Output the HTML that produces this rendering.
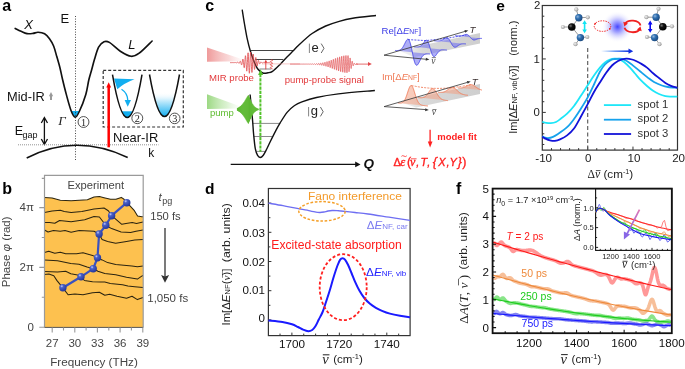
<!DOCTYPE html>
<html><head><meta charset="utf-8"><style>
html,body{margin:0;padding:0;background:#fff;}
svg{display:block;will-change:transform;}
</style></head><body>
<svg width="685" height="369" viewBox="0 0 685 369">
<rect width="685" height="369" fill="#fff"/>
<text x="2.2" y="11" font-family="Liberation Sans" font-size="16" fill="#000" font-weight="bold" font-style="normal" text-anchor="start" >a</text>
<text x="24.3" y="29.3" font-family="Liberation Sans" font-size="13" fill="#111" font-weight="normal" font-style="italic" text-anchor="start" >X</text>
<text x="60.6" y="22.7" font-family="Liberation Sans" font-size="13" fill="#111" font-weight="normal" font-style="normal" text-anchor="start" >E</text>
<path d="M71.3,110.9 L79.1,110.9 Q77.3,115 75.2,117.2 Q73.2,115 71.3,110.9Z" fill="#12aef0"/>
<line x1="75.5" y1="16" x2="75.5" y2="160" stroke="#333" stroke-width="0.9" stroke-dasharray="1 1.6"/>
<path d="M15.2,28.4 C16.17,28.87 19.03,30.33 21,31.2 C22.97,32.07 25,33.23 27,33.6 C29,33.97 31.15,33.62 33,33.4 C34.85,33.18 36.17,32.23 38.1,32.3 C40.03,32.37 42.7,32.73 44.6,33.8 C46.5,34.87 48,36.67 49.5,38.7 C51,40.73 52.38,43.02 53.6,46 C54.82,48.98 55.73,52.93 56.8,56.6 C57.87,60.27 59.05,64.22 60,68 C60.95,71.78 61.45,74.9 62.5,79.3 C63.55,83.7 64.87,89.17 66.3,94.4 C67.73,99.63 69.62,106.9 71.1,110.7 C72.58,114.5 73.83,117.07 75.2,117.2 C76.57,117.33 77.53,115.3 79.3,111.5 C81.07,107.7 84.22,99.65 85.8,94.4 C87.38,89.15 87.83,84.07 88.8,80 C89.77,75.93 90.65,73.45 91.6,70 C92.55,66.55 93.33,63.12 94.5,59.3 C95.67,55.48 97.02,50.03 98.6,47.1 C100.18,44.17 102.2,42.48 104,41.7 C105.8,40.92 106.68,40.82 109.4,42.4 C112.12,43.98 116.68,48.88 120.3,51.2 C123.92,53.52 127.95,55.97 131.1,56.3 C134.25,56.63 135.7,55.75 139.2,53.2 C142.7,50.65 149.95,43.03 152.1,41" fill="none" stroke="#111" stroke-width="1.65" stroke-linecap="round"/>
<text x="58.2" y="124.6" font-family="Liberation Serif" font-size="13.2" fill="#222" font-weight="normal" font-style="italic" text-anchor="start" >&#915;</text>
<circle cx="83.5" cy="122" r="5.45" fill="none" stroke="#333" stroke-width="0.85"/><text x="83.5" y="125.5" font-family="Liberation Serif" font-size="10.2" fill="#222" font-weight="normal" font-style="normal" text-anchor="middle" >1</text>
<circle cx="137.3" cy="118.2" r="5.45" fill="none" stroke="#333" stroke-width="0.85"/><text x="137.3" y="121.7" font-family="Liberation Serif" font-size="10.2" fill="#222" font-weight="normal" font-style="normal" text-anchor="middle" >2</text>
<circle cx="174.7" cy="118.4" r="5.3" fill="none" stroke="#333" stroke-width="0.85"/><text x="174.7" y="121.9" font-family="Liberation Serif" font-size="10.2" fill="#222" font-weight="normal" font-style="normal" text-anchor="middle" >3</text>
<text x="7.1" y="100.5" font-family="Liberation Sans" font-size="12.8" fill="#111" font-weight="normal" font-style="normal" text-anchor="start" >Mid-IR</text>
<path d="M51,100 L51,95.5" stroke="#999" stroke-width="2"/><path d="M48.9,96.3 L51,92.1 L53.1,96.3Z" fill="#999"/>
<text x="14.7" y="135" font-family="Liberation Sans" font-size="12.6" fill="#111" font-weight="normal" font-style="normal" text-anchor="start" >E</text><text x="22.6" y="137.5" font-family="Liberation Sans" font-size="9" fill="#111" font-weight="normal" font-style="normal" text-anchor="start" >gap</text>
<path d="M44.4,118 L44.4,144" stroke="#111" stroke-width="1.3"/><path d="M41.3,123 L44.4,117.6 L47.5,123 M41.3,139 L44.4,144.4 L47.5,139" fill="none" stroke="#111" stroke-width="1.3"/>
<line x1="18" y1="144.8" x2="158.5" y2="144.8" stroke="#888" stroke-width="0.9" stroke-dasharray="1 1"/>
<path d="M26.7,158 Q75.7,132.8 127.7,157.5" fill="none" stroke="#111" stroke-width="1.5"/>
<rect x="103.2" y="70.3" width="80.1" height="56.7" fill="none" stroke="#333" stroke-width="1.2" stroke-dasharray="3 2"/>
<path d="M108.7,147.3 L108.7,86" stroke="#f00" stroke-width="2.5"/><path d="M106.3,87.5 L108.7,82.2 L111.1,87.5Z" fill="#f00"/>
<path d="M112.3,111.4 L141.6,111.4 L127.2,117.8Z" fill="none"/>
<clipPath id="p2"><path d="M112.5,74.6 Q127.2,160.4 142,74.6Z"/></clipPath>
<rect x="110" y="111.3" width="35" height="8" fill="#12aef0" clip-path="url(#p2)"/>
<path d="M114,78.4 L134.6,79.2 Q124,83 117.3,89.3Z" fill="#12aef0"/>
<path d="M112.5,74.6 Q127.2,160.4 142,74.6" fill="none" stroke="#111" stroke-width="1.5"/>
<path d="M121.5,89.2 Q127.6,93 127.8,100.5" fill="none" stroke="#12aef0" stroke-width="1.3"/><path d="M124.6,100 L127.7,106.7 L131,100Z" fill="#12aef0"/>
<linearGradient id="g3" x1="0" y1="0" x2="0" y2="1"><stop offset="0" stop-color="#fff" stop-opacity="0"/><stop offset="0.42" stop-color="#fff" stop-opacity="0"/><stop offset="0.62" stop-color="#c6ecfc"/><stop offset="1" stop-color="#12aef0"/></linearGradient>
<path d="M149.5,74.5 Q164.5,158.7 179.5,74.5Z" fill="url(#g3)"/>
<path d="M149.5,74.5 Q164.5,158.7 179.5,74.5" fill="none" stroke="#111" stroke-width="1.5"/>
<text x="113.1" y="141.9" font-family="Liberation Sans" font-size="12.9" fill="#111" font-weight="normal" font-style="normal" text-anchor="start" >Near-IR</text>
<text x="148.2" y="156.9" font-family="Liberation Sans" font-size="12" fill="#111" font-weight="normal" font-style="normal" text-anchor="start" >k</text>
<text x="128.3" y="49.2" font-family="Liberation Sans" font-size="13" fill="#111" font-weight="normal" font-style="italic" text-anchor="start" >L</text>
<text x="2.2" y="194.4" font-family="Liberation Sans" font-size="16" fill="#000" font-weight="bold" font-style="normal" text-anchor="start" >b</text>
<path d="M44.5,197.5 L52.1,198 L60.3,200.3 L71.1,200.8 L79.2,200.3 L87.4,199.8 L94,196.9 L99.4,196.5 L104,197.7 L110.5,199.3 L115.9,199.3 L121.3,197.4 L124,199.3 L126.8,202.6 L130,205.8 L134.4,210.7 L137.6,216.1 L141.9,216.7 L143,216.8 L143,327.4 L44.5,327.4Z" fill="#fdc14f"/>
<path d="M44.5,197.5 L52.1,198 L60.3,200.3 L71.1,200.8 L79.2,200.3 L87.4,199.8 L94,196.9 L99.4,196.5 L104,197.7 L110.5,199.3 L115.9,199.3 L121.3,197.4 L124,199.3 L126.8,202.6 L130,205.8 L134.4,210.7 L137.6,216.1 L141.9,216.7 L143,216.8" fill="none" stroke="#2b2410" stroke-width="1.05" stroke-linejoin="round"/>
<path d="M44.5,212.4 L52.1,211 L60.3,210.3 L64.3,211.4 L71.1,212.4 L81.9,211.4 L94,209 L104,208 L108.3,210.7 L111.6,215.6 L115.7,219.1 L121.8,224.3 L126,223.4 L132.2,222.6 L136.5,223.4 L143,222" fill="none" stroke="#2b2410" stroke-width="1.05" stroke-linejoin="round"/>
<path d="M44.5,222.5 L49.4,222.5 L54.8,223.2 L59.6,220.5 L71.1,221.8 L84.7,219.8 L94,216.6 L99.4,217 L105.8,225.3 L111.6,228.6 L121.1,231.9 L130.6,232.6 L136,231.3 L143,229.9" fill="none" stroke="#2b2410" stroke-width="1.05" stroke-linejoin="round"/>
<path d="M44.5,230 L48,232 L53.5,230.4 L60.3,231.3 L65,230.4 L71.1,232.3 L79.2,230.6 L94,231.3 L99.1,234 L102.1,239.4 L107.6,241.4 L115.7,243.2 L126.5,241.4 L134.7,240.1 L143,239.4" fill="none" stroke="#2b2410" stroke-width="1.05" stroke-linejoin="round"/>
<path d="M44.5,252.6 L48.7,251.3 L54.8,253.3 L60.3,252.3 L65.7,253.7 L76.5,253.7 L83,252.7 L92.5,255.4 L97.4,257.8 L102.1,259.9 L107.6,262.6 L115.7,264.6 L123.8,265.3 L131.9,266 L137.4,266.7 L143,266" fill="none" stroke="#2b2410" stroke-width="1.05" stroke-linejoin="round"/>
<path d="M44.5,260 L57.5,260.7 L70.8,263.6 L79,264.2 L87.1,266.9 L93.2,268.7 L97.9,271.2 L104.8,273.5 L115.7,274.8 L126.5,277.2 L137.4,279.1 L142.1,275.9 L143,275.5" fill="none" stroke="#2b2410" stroke-width="1.05" stroke-linejoin="round"/>
<path d="M44.5,271.6 L57.5,271.9 L65.7,271.3 L70.8,273.7 L77.6,275.1 L81,276.8 L84.4,280.5 L92.5,281.8 L100.7,282.1 L104.8,282 L110.3,283.4 L122.5,284.7 L127.9,286.1 L134.7,286.8 L143,287.5" fill="none" stroke="#2b2410" stroke-width="1.05" stroke-linejoin="round"/>
<path d="M44.5,274.6 L48.9,274.1 L53.8,275.7 L57,280.6 L62.7,287.7 L68.1,294.7 L74.9,294 L83,294.7 L92.5,292.7 L99.4,292.2 L104.8,295.2 L109.6,294.2 L117,296.3 L126.5,298.3 L132,296.3 L137.4,299.6 L143,297.6" fill="none" stroke="#2b2410" stroke-width="1.05" stroke-linejoin="round"/>
<path d="M44.5,327.4 L44.5,175.4 L143.2,175.4 L143.2,327.4" fill="none" stroke="#9a9a9a" stroke-width="1.2"/>
<line x1="44.5" y1="327.4" x2="143.2" y2="327.4" stroke="#555" stroke-width="1"/>
<path d="M39.3,207.6 L44.5,207.6 M39.3,267.4 L44.5,267.4 M39.3,327.2 L44.5,327.2 M41.8,178.4 L44.5,178.4 M41.8,237.5 L44.5,237.5 M41.8,297.3 L44.5,297.3 M52.2,327.4 L52.2,332.6 M74.8,327.4 L74.8,332.6 M97.4,327.4 L97.4,332.6 M120.1,327.4 L120.1,332.6 M142.8,327.4 L142.8,332.6 M63.5,327.4 L63.5,330.4 M86.1,327.4 L86.1,330.4 M108.8,327.4 L108.8,330.4 M131.4,327.4 L131.4,330.4 " stroke="#999" stroke-width="1.1"/>
<text x="33.9" y="211" font-family="Liberation Sans" font-size="11.5" fill="#444" font-weight="normal" font-style="normal" text-anchor="end" >4&#960;</text>
<text x="33.9" y="270.5" font-family="Liberation Sans" font-size="11.5" fill="#444" font-weight="normal" font-style="normal" text-anchor="end" >2&#960;</text>
<text x="34" y="330.9" font-family="Liberation Sans" font-size="11.5" fill="#444" font-weight="normal" font-style="normal" text-anchor="end" >0</text>
<text x="52.2" y="347.4" font-family="Liberation Sans" font-size="11.5" fill="#444" font-weight="normal" font-style="normal" text-anchor="middle" >27</text>
<text x="74.8" y="347.4" font-family="Liberation Sans" font-size="11.5" fill="#444" font-weight="normal" font-style="normal" text-anchor="middle" >30</text>
<text x="97.4" y="347.4" font-family="Liberation Sans" font-size="11.5" fill="#444" font-weight="normal" font-style="normal" text-anchor="middle" >33</text>
<text x="120.1" y="347.4" font-family="Liberation Sans" font-size="11.5" fill="#444" font-weight="normal" font-style="normal" text-anchor="middle" >36</text>
<text x="142.8" y="347.4" font-family="Liberation Sans" font-size="11.5" fill="#444" font-weight="normal" font-style="normal" text-anchor="middle" >39</text>
<text x="94" y="366" font-family="Liberation Sans" font-size="11.7" fill="#444" font-weight="normal" font-style="normal" text-anchor="middle" >Frequency (THz)</text>
<text transform="translate(9.6,251.8) rotate(-90)" font-family="Liberation Sans" font-size="11.5" fill="#444" text-anchor="middle">Phase <tspan font-style="italic">&#966;</tspan> (rad)</text>
<text x="95.8" y="188.8" font-family="Liberation Sans" font-size="11.2" fill="#444" font-weight="normal" font-style="normal" text-anchor="middle" >Experiment</text>
<text x="158.6" y="201.3" font-family="Liberation Sans" font-size="11.5" fill="#444" font-weight="normal" font-style="italic" text-anchor="start" >t</text><text x="162.2" y="204.3" font-family="Liberation Sans" font-size="9" fill="#444" font-weight="normal" font-style="normal" text-anchor="start" >pg</text>
<text x="165.4" y="220" font-family="Liberation Sans" font-size="11.2" fill="#444" font-weight="normal" font-style="normal" text-anchor="middle" >150 fs</text>
<text x="167.7" y="301.5" font-family="Liberation Sans" font-size="11.5" fill="#444" font-weight="normal" font-style="normal" text-anchor="middle" >1,050 fs</text>
<path d="M165,228 L165,277" stroke="#333" stroke-width="1.3"/><path d="M161.1,275 L165,282.8 L169.1,275 L165,276.6Z" fill="#333"/>
<radialGradient id="dotg" cx="0.35" cy="0.3" r="0.7"><stop offset="0" stop-color="#c8d0f5"/><stop offset="0.3" stop-color="#4a60c8"/><stop offset="1" stop-color="#26389a"/></radialGradient>
<path d="M62.9,287.7 L81,276.8 L93.2,268.7 L97.5,257.8 L99.1,234 L105.8,225.3 L111.6,215.7 L126.8,202.7" fill="none" stroke="#3a51c0" stroke-width="2.2" stroke-linejoin="round"/>
<circle cx="62.9" cy="287.7" r="3.7" fill="url(#dotg)"/>
<circle cx="81" cy="276.8" r="3.7" fill="url(#dotg)"/>
<circle cx="93.2" cy="268.7" r="3.7" fill="url(#dotg)"/>
<circle cx="97.5" cy="257.8" r="3.7" fill="url(#dotg)"/>
<circle cx="99.1" cy="234" r="3.7" fill="url(#dotg)"/>
<circle cx="105.8" cy="225.3" r="3.7" fill="url(#dotg)"/>
<circle cx="111.6" cy="215.7" r="3.7" fill="url(#dotg)"/>
<circle cx="126.8" cy="202.7" r="3.7" fill="url(#dotg)"/>
<text x="205.2" y="10.8" font-family="Liberation Sans" font-size="16" fill="#000" font-weight="bold" font-style="normal" text-anchor="start" >c</text>
<linearGradient id="mirg" x1="0" y1="0" x2="1" y2="0"><stop offset="0" stop-color="#ef9a9a" stop-opacity="1"/><stop offset="0.6" stop-color="#f5bcbc" stop-opacity="0.6"/><stop offset="1" stop-color="#fadada" stop-opacity="0.1"/></linearGradient>
<path d="M207,47.5 L243,59.6 L243,61.3 L207,61.8Z" fill="url(#mirg)"/>
<linearGradient id="pumpg" x1="0" y1="0" x2="1" y2="0"><stop offset="0" stop-color="#9cd883" stop-opacity="1"/><stop offset="0.6" stop-color="#c2e9b2" stop-opacity="0.6"/><stop offset="1" stop-color="#def4d4" stop-opacity="0.1"/></linearGradient>
<path d="M207,94.2 L240,106.3 L240,108.5 L207,109.1Z" fill="url(#pumpg)"/>
<path d="M250.8,50.5 L293.1,50.5 M255.2,59.5 L283.3,59.5" stroke="#444" stroke-width="1"/><path d="M259.5,69 L271.4,69" stroke="#777" stroke-width="0.9"/>
<path d="M252.8,123.4 L280.2,123.4 M254,136.5 L272,136.5 M256.5,151.4 L265,151.4" stroke="#8a8a8a" stroke-width="1"/>
<path d="M242.2,9.7 C242.58,12.08 243.65,19.08 244.5,24 C245.35,28.92 246.35,34.78 247.3,39.2 C248.25,43.62 249.07,46.75 250.2,50.5 C251.33,54.25 252.87,58.67 254.1,61.7 C255.33,64.73 256.15,66.82 257.6,68.7 C259.05,70.58 261.07,72.32 262.8,73 C264.53,73.68 266.38,73.07 268,72.8 C269.62,72.53 270.48,72.8 272.5,71.4 C274.52,70 277.68,66.8 280.1,64.4 C282.52,62 284.77,59.32 287,57 C289.23,54.68 291.57,52.47 293.5,50.5 C295.43,48.53 295.5,48.03 298.6,45.2 C301.7,42.37 307.58,36.7 312.1,33.5 C316.62,30.3 321.18,28.03 325.7,26 C330.22,23.97 334.7,22.58 339.2,21.3 C343.7,20.02 346.57,19.27 352.7,18.3 C358.83,17.33 372.12,15.97 376,15.5" fill="none" stroke="#111" stroke-width="1.4"/>
<path d="M250.1,94.5 C250.35,97.08 251.17,105.42 251.6,110 C252.03,114.58 252.37,118 252.7,122 C253.03,126 253.17,129.57 253.6,134 C254.03,138.43 254.63,145.03 255.3,148.6 C255.97,152.17 256.78,153.92 257.6,155.4 C258.42,156.88 259.25,157.53 260.2,157.5 C261.15,157.47 262.23,156.57 263.3,155.2 C264.37,153.83 265.45,151.55 266.6,149.3 C267.75,147.05 268.68,144.78 270.2,141.7 C271.72,138.62 274.07,133.9 275.7,130.8 C277.33,127.7 278.07,126.22 280,123.1 C281.93,119.98 284.87,115.03 287.3,112.1 C289.73,109.17 292.17,107.2 294.6,105.5 C297.03,103.8 298.25,103.23 301.9,101.9 C305.55,100.57 310.42,98.83 316.5,97.5 C322.58,96.17 328.67,95.07 338.4,93.9 C348.13,92.73 368.82,91.07 374.9,90.5" fill="none" stroke="#111" stroke-width="1.4"/>
<path d="M230.7,164.4 L356,164.4" stroke="#111" stroke-width="1.3"/><path d="M355.2,161.5 L360.5,164.4 L355.2,167.3Z" fill="#111"/>
<text x="363.4" y="167.8" font-family="Liberation Sans" font-size="13.5" fill="#111" font-weight="bold" font-style="italic" text-anchor="start" >Q</text>
<line x1="309.4" y1="43.599999999999994" x2="309.4" y2="53.0" stroke="#777" stroke-width="0.9"/><text x="311.5" y="51.8" font-family="Liberation Sans" font-size="13" fill="#222" font-weight="normal" font-style="normal" text-anchor="start" >e</text><path d="M321.2,43.599999999999994 L324.0,48.3 L321.2,53.0" fill="none" stroke="#555" stroke-width="0.9"/>
<line x1="308.6" y1="107.0" x2="308.6" y2="116.4" stroke="#777" stroke-width="0.9"/><text x="310.7" y="115.2" font-family="Liberation Sans" font-size="13" fill="#222" font-weight="normal" font-style="normal" text-anchor="start" >g</text><path d="M320.40000000000003,107.0 L323.20000000000005,111.7 L320.40000000000003,116.4" fill="none" stroke="#555" stroke-width="0.9"/>
<path d="M230,62.6 L230.15,62.6 L230.3,62.6 L230.45,62.6 L230.6,62.6 L230.75,62.6 L230.9,62.6 L231.05,62.6 L231.2,62.61 L231.35,62.61 L231.5,62.6 L231.65,62.6 L231.8,62.6 L231.95,62.6 L232.1,62.59 L232.25,62.59 L232.4,62.59 L232.55,62.59 L232.7,62.59 L232.85,62.59 L233,62.6 L233.15,62.6 L233.3,62.61 L233.45,62.62 L233.6,62.63 L233.75,62.64 L233.9,62.64 L234.05,62.63 L234.2,62.62 L234.35,62.61 L234.5,62.59 L234.65,62.56 L234.8,62.54 L234.95,62.52 L235.1,62.51 L235.25,62.51 L235.4,62.53 L235.55,62.56 L235.7,62.6 L235.85,62.65 L236,62.7 L236.15,62.75 L236.3,62.78 L236.45,62.8 L236.6,62.78 L236.75,62.74 L236.9,62.66 L237.05,62.57 L237.2,62.46 L237.35,62.35 L237.5,62.26 L237.65,62.21 L237.8,62.2 L237.95,62.25 L238.1,62.37 L238.25,62.53 L238.4,62.74 L238.55,62.96 L238.7,63.16 L238.85,63.31 L239,63.38 L239.15,63.34 L239.3,63.2 L239.45,62.94 L239.6,62.6 L239.75,62.21 L239.9,61.82 L240.05,61.48 L240.2,61.27 L240.35,61.21 L240.5,61.35 L240.65,61.68 L240.8,62.19 L240.95,62.82 L241.1,63.5 L241.25,64.13 L241.4,64.63 L241.55,64.89 L241.7,64.86 L241.85,64.51 L242,63.85 L242.15,62.94 L242.3,61.89 L242.45,60.82 L242.6,59.89 L242.75,59.25 L242.9,59.01 L243.05,59.25 L243.2,59.97 L243.35,61.13 L243.5,62.6 L243.65,64.2 L243.8,65.71 L243.95,66.92 L244.1,67.64 L244.25,67.72 L244.4,67.1 L244.55,65.82 L244.7,64 L244.85,61.87 L245,59.68 L245.15,57.75 L245.3,56.35 L245.45,55.71 L245.6,55.97 L245.75,57.14 L245.9,59.12 L246.05,61.67 L246.2,64.49 L246.35,67.19 L246.5,69.41 L246.65,70.82 L246.8,71.18 L246.95,70.41 L247.1,68.57 L247.25,65.85 L247.4,62.6 L247.55,59.24 L247.7,56.22 L247.85,53.95 L248,52.77 L248.15,52.86 L248.3,54.25 L248.45,56.78 L248.6,60.12 L248.75,63.86 L248.9,67.49 L249.05,70.53 L249.2,72.56 L249.35,73.3 L249.5,72.64 L249.65,70.66 L249.8,67.61 L249.95,63.9 L250.1,60.02 L250.25,56.47 L250.4,53.74 L250.55,52.18 L250.7,51.99 L250.85,53.19 L251,55.59 L251.15,58.88 L251.3,62.6 L251.45,66.26 L251.6,69.37 L251.75,71.55 L251.9,72.51 L252.05,72.17 L252.2,70.6 L252.35,68.04 L252.5,64.86 L252.65,61.48 L252.8,58.37 L252.95,55.91 L253.1,54.4 L253.25,54.01 L253.4,54.74 L253.55,56.45 L253.7,58.87 L253.85,61.66 L254,64.43 L254.15,66.82 L254.3,68.55 L254.45,69.42 L254.6,69.37 L254.75,68.46 L254.9,66.85 L255.05,64.8 L255.2,62.6 L255.35,60.54 L255.5,58.89 L255.65,57.82 L255.8,57.43 L255.95,57.74 L256.1,58.64 L256.25,59.97 L256.4,61.54 L256.55,63.11 L256.7,64.49 L256.85,65.52 L257,66.09 L257.15,66.16 L257.3,65.78 L257.45,65.02 L257.6,64.03 L257.75,62.95 L257.9,61.93 L258.05,61.1 L258.2,60.53 L258.35,60.29 L258.5,60.36 L258.65,60.71 L258.8,61.27 L258.95,61.93 L259.1,62.6 L259.25,63.2 L259.4,63.65 L259.55,63.92 L259.7,63.99 L259.85,63.88 L260,63.61 L260.15,63.26 L260.3,62.86 L260.45,62.48 L260.6,62.16 L260.75,61.94 L260.9,61.83 L261.05,61.84 L261.2,61.94 L261.35,62.11 L261.5,62.32 L261.65,62.53 L261.8,62.73 L261.95,62.88 L262.1,62.97 L262.25,63 L262.4,62.98 L262.55,62.91 L262.7,62.82 L262.85,62.71 L263,62.6 L263.15,62.51 L263.3,62.45 L263.45,62.41 L263.6,62.41 L263.75,62.43 L263.9,62.47 L264.05,62.52 L264.2,62.57 L264.35,62.61 L264.5,62.65 L264.65,62.68 L264.8,62.69 L264.95,62.68 L265.1,62.67 L265.25,62.65 L265.4,62.63 L265.55,62.61 L265.7,62.59 L265.85,62.57 L266,62.57 L266.15,62.56 L266.3,62.57 L266.45,62.57 L266.6,62.58 L266.75,62.59 L266.9,62.6 L267.05,62.61 L267.2,62.61 L267.35,62.61 L267.5,62.61 L267.65,62.61 L267.8,62.61 L267.95,62.61 L268.1,62.6 L268.25,62.6 L268.4,62.6 L268.55,62.6 L268.7,62.59 L268.85,62.6 L269,62.6 L269.15,62.6 L269.3,62.6 L269.45,62.6 L269.6,62.6 L269.75,62.6 L269.9,62.6" fill="none" stroke="#e0474a" stroke-width="0.8"/>
<line x1="262" y1="63.9" x2="300" y2="63.9" stroke="#f0a0a0" stroke-width="0.6"/>
<path d="M290,64.1 L290.15,64.1 L290.3,64.1 L290.45,64.1 L290.6,64.1 L290.75,64.1 L290.9,64.1 L291.05,64.1 L291.2,64.1 L291.35,64.1 L291.5,64.1 L291.65,64.1 L291.8,64.1 L291.95,64.1 L292.1,64.1 L292.25,64.1 L292.4,64.1 L292.55,64.1 L292.7,64.1 L292.85,64.1 L293,64.1 L293.15,64.1 L293.3,64.1 L293.45,64.1 L293.6,64.1 L293.75,64.1 L293.9,64.1 L294.05,64.1 L294.2,64.1 L294.35,64.1 L294.5,64.1 L294.65,64.1 L294.8,64.1 L294.95,64.1 L295.1,64.1 L295.25,64.1 L295.4,64.1 L295.55,64.1 L295.7,64.1 L295.85,64.1 L296,64.1 L296.15,64.1 L296.3,64.1 L296.45,64.1 L296.6,64.1 L296.75,64.1 L296.9,64.1 L297.05,64.1 L297.2,64.1 L297.35,64.1 L297.5,64.1 L297.65,64.09 L297.8,64.09 L297.95,64.1 L298.1,64.1 L298.25,64.1 L298.4,64.1 L298.55,64.11 L298.7,64.11 L298.85,64.11 L299,64.1 L299.15,64.1 L299.3,64.1 L299.45,64.09 L299.6,64.09 L299.75,64.09 L299.9,64.09 L300.05,64.09 L300.2,64.1 L300.35,64.1 L300.5,64.11 L300.65,64.11 L300.8,64.11 L300.95,64.11 L301.1,64.11 L301.25,64.1 L301.4,64.1 L301.55,64.09 L301.7,64.08 L301.85,64.08 L302,64.08 L302.15,64.09 L302.3,64.1 L302.45,64.11 L302.6,64.12 L302.75,64.12 L302.9,64.12 L303.05,64.12 L303.2,64.11 L303.35,64.1 L303.5,64.09 L303.65,64.08 L303.8,64.07 L303.95,64.07 L304.1,64.07 L304.25,64.08 L304.4,64.09 L304.55,64.11 L304.7,64.13 L304.85,64.14 L305,64.14 L305.15,64.14 L305.3,64.13 L305.45,64.11 L305.6,64.09 L305.75,64.07 L305.9,64.05 L306.05,64.05 L306.2,64.05 L306.35,64.07 L306.5,64.09 L306.65,64.12 L306.8,64.14 L306.95,64.16 L307.1,64.17 L307.25,64.16 L307.4,64.14 L307.55,64.11 L307.7,64.08 L307.85,64.04 L308,64.02 L308.15,64.01 L308.3,64.02 L308.45,64.05 L308.6,64.09 L308.75,64.13 L308.9,64.17 L309.05,64.2 L309.2,64.21 L309.35,64.2 L309.5,64.17 L309.65,64.12 L309.8,64.06 L309.95,64.01 L310.1,63.97 L310.25,63.96 L310.4,63.97 L310.55,64.01 L310.7,64.08 L310.85,64.15 L311,64.21 L311.15,64.26 L311.3,64.28 L311.45,64.26 L311.6,64.21 L311.75,64.13 L311.9,64.04 L312.05,63.96 L312.2,63.9 L312.35,63.88 L312.5,63.9 L312.65,63.97 L312.8,64.06 L312.95,64.18 L313.1,64.28 L313.25,64.35 L313.4,64.38 L313.55,64.35 L313.7,64.27 L313.85,64.15 L314,64.01 L314.15,63.88 L314.3,63.79 L314.45,63.76 L314.6,63.79 L314.75,63.89 L314.9,64.04 L315.05,64.21 L315.2,64.37 L315.35,64.48 L315.5,64.52 L315.65,64.47 L315.8,64.35 L315.95,64.17 L316.1,63.96 L316.25,63.77 L316.4,63.64 L316.55,63.59 L316.7,63.64 L316.85,63.8 L317,64.02 L317.15,64.27 L317.3,64.5 L317.45,64.66 L317.6,64.72 L317.75,64.65 L317.9,64.47 L318.05,64.2 L318.2,63.9 L318.35,63.62 L318.5,63.43 L318.65,63.36 L318.8,63.44 L318.95,63.66 L319.1,63.98 L319.25,64.34 L319.4,64.67 L319.55,64.9 L319.7,64.98 L319.85,64.88 L320,64.62 L320.15,64.24 L320.3,63.81 L320.45,63.42 L320.6,63.15 L320.75,63.06 L320.9,63.17 L321.05,63.48 L321.2,63.93 L321.35,64.44 L321.5,64.9 L321.65,65.22 L321.8,65.33 L321.95,65.19 L322.1,64.83 L322.25,64.3 L322.4,63.7 L322.55,63.16 L322.7,62.79 L322.85,62.66 L323,62.82 L323.15,63.25 L323.3,63.87 L323.45,64.56 L323.6,65.19 L323.75,65.63 L323.9,65.77 L324.05,65.58 L324.2,65.08 L324.35,64.37 L324.5,63.56 L324.65,62.84 L324.8,62.34 L324.95,62.17 L325.1,62.39 L325.25,62.97 L325.4,63.79 L325.55,64.72 L325.7,65.55 L325.85,66.12 L326,66.31 L326.15,66.06 L326.3,65.4 L326.45,64.45 L326.6,63.4 L326.75,62.44 L326.9,61.79 L327.05,61.58 L327.2,61.87 L327.35,62.63 L327.5,63.7 L327.65,64.9 L327.8,65.98 L327.95,66.71 L328.1,66.95 L328.25,66.62 L328.4,65.77 L328.55,64.55 L328.7,63.2 L328.85,61.99 L329,61.16 L329.15,60.9 L329.3,61.27 L329.45,62.23 L329.6,63.6 L329.75,65.11 L329.9,66.47 L330.05,67.39 L330.2,67.68 L330.35,67.26 L330.5,66.18 L330.65,64.66 L330.8,62.98 L330.95,61.47 L331.1,60.45 L331.25,60.13 L331.4,60.6 L331.55,61.79 L331.7,63.48 L331.85,65.34 L332,67.01 L332.15,68.13 L332.3,68.48 L332.45,67.95 L332.6,66.64 L332.75,64.78 L332.9,62.74 L333.05,60.91 L333.2,59.68 L333.35,59.3 L333.5,59.88 L333.65,61.32 L333.8,63.36 L333.95,65.59 L334.1,67.58 L334.25,68.92 L334.4,69.32 L334.55,68.69 L334.7,67.12 L334.85,64.91 L335,62.48 L335.15,60.33 L335.3,58.89 L335.45,58.45 L335.6,59.14 L335.75,60.84 L335.9,63.23 L336.05,65.84 L336.2,68.16 L336.35,69.71 L336.5,70.17 L336.65,69.42 L336.8,67.59 L336.95,65.03 L337.1,62.24 L337.25,59.76 L337.4,58.11 L337.55,57.63 L337.7,58.43 L337.85,60.38 L338,63.11 L338.15,66.08 L338.3,68.71 L338.45,70.46 L338.6,70.96 L338.75,70.11 L338.9,68.04 L339.05,65.15 L339.2,62.01 L339.35,59.24 L339.5,57.4 L339.65,56.87 L339.8,57.78 L339.95,59.96 L340.1,63 L340.25,66.3 L340.4,69.2 L340.55,71.12 L340.7,71.67 L340.85,70.71 L341,68.43 L341.15,65.25 L341.3,61.81 L341.45,58.79 L341.6,56.79 L341.75,56.23 L341.9,57.23 L342.05,59.61 L342.2,62.91 L342.35,66.47 L342.5,69.6 L342.65,71.65 L342.8,72.23 L342.95,71.19 L343.1,68.73 L343.25,65.33 L343.4,61.66 L343.55,58.45 L343.7,56.34 L343.85,55.76 L344,56.83 L344.15,59.36 L344.3,62.84 L344.45,66.59 L344.6,69.87 L344.75,72.02 L344.9,72.6 L345.05,71.5 L345.2,68.92 L345.35,65.38 L345.5,61.57 L345.65,58.24 L345.8,56.07 L345.95,55.49 L346.1,56.61 L346.25,59.22 L346.4,62.81 L346.55,66.66 L346.7,70.01 L346.85,72.19 L347,72.77 L347.15,71.63 L347.3,69 L347.45,65.4 L347.6,61.54 L347.75,58.2 L347.9,56.06 L348.05,55.55 L348.2,56.74 L348.35,59.37 L348.5,62.87 L348.65,66.5 L348.8,69.55 L348.95,71.41 L349.1,71.76 L349.25,70.59 L349.4,68.21 L349.55,65.16 L349.7,62.08 L349.85,59.58 L350,58.13 L350.15,57.94 L350.3,58.96 L350.45,60.9 L350.6,63.29 L350.75,65.63 L350.9,67.47 L351.05,68.48 L351.2,68.55 L351.35,67.75 L351.5,66.34 L351.65,64.66 L351.8,63.06 L351.95,61.85 L352.1,61.22 L352.25,61.22 L352.4,61.77 L352.55,62.69 L352.7,63.75 L352.85,64.73 L353,65.45 L353.15,65.8 L353.3,65.78 L353.45,65.44 L353.6,64.9 L353.75,64.29 L353.9,63.75 L354.05,63.37 L354.2,63.2 L354.35,63.22 L354.5,63.41 L354.65,63.7 L354.8,64 L354.95,64.27 L355.1,64.45 L355.25,64.53 L355.4,64.51 L355.55,64.42 L355.7,64.28 L355.85,64.14 L356,64.02 L356.15,63.95 L356.3,63.92 L356.45,63.93 L356.6,63.97 L356.75,64.02 L356.9,64.08 L357.05,64.13 L357.2,64.16 L357.35,64.17 L357.5,64.17 L357.65,64.15 L357.8,64.13 L357.95,64.11" fill="none" stroke="#e0474a" stroke-width="0.65"/>
<line x1="356" y1="64.1" x2="369" y2="64.1" stroke="#e0474a" stroke-width="0.8"/><path d="M368,62.1 L371.8,64.1 L368,66.1Z" fill="#e0474a"/>
<text x="209.1" y="81.3" font-family="Liberation Sans" font-size="9.6" fill="#e23a3c" font-weight="normal" font-style="normal" text-anchor="start" >MIR probe</text>
<text x="284.8" y="83.3" font-family="Liberation Sans" font-size="9.55" fill="#e23a3c" font-weight="normal" font-style="normal" text-anchor="start" >pump-probe signal</text>
<path d="M237,108.07 L237.22,107.98 L237.43,107.89 L237.65,107.8 L237.86,107.71 L238.07,107.6 L238.29,107.49 L238.5,107.38 L238.72,107.26 L238.94,107.14 L239.15,107.01 L239.37,106.87 L239.58,106.72 L239.79,106.57 L240.01,106.41 L240.22,106.25 L240.44,106.07 L240.66,105.89 L240.87,105.7 L241.09,105.5 L241.3,105.3 L241.51,105.08 L241.73,104.86 L241.94,104.62 L242.16,104.38 L242.38,104.13 L242.59,103.87 L242.81,103.6 L243.02,103.33 L243.24,103.04 L243.45,102.74 L243.66,102.44 L243.88,102.12 L244.09,101.8 L244.31,101.47 L244.53,101.13 L244.74,100.78 L244.96,100.43 L245.17,100.06 L245.38,99.7 L245.6,99.33 L245.81,98.95 L246.03,98.57 L246.25,98.2 L246.46,97.82 L246.68,97.44 L246.89,97.07 L247.1,96.71 L247.32,96.35 L247.53,96.02 L247.75,95.7 L247.97,95.41 L248.18,95.17 L248.4,95 L248.61,95.24 L248.82,95.6 L249.04,96.03 L249.25,96.49 L249.47,96.98 L249.69,97.49 L249.9,98 L250.12,98.52 L250.33,99.03 L250.54,99.54 L250.76,100.04 L250.97,100.54 L251.19,101.01 L251.41,101.48 L251.62,101.93 L251.84,102.36 L252.05,102.78 L252.26,103.18 L252.48,103.56 L252.69,103.93 L252.91,104.28 L253.12,104.61 L253.34,104.93 L253.56,105.23 L253.77,105.51 L253.99,105.78 L254.2,106.03 L254.41,106.27 L254.63,106.49 L254.84,106.7 L255.06,106.9 L255.28,107.08 L255.49,107.26 L255.7,107.42 L255.92,107.57 L256.13,107.71 L256.35,107.84 L256.56,107.96 L256.78,108.08 L257,108.18 L257.21,108.28 L257.43,108.37 L257.64,108.45 L257.86,108.53 L258.07,108.6 L258.29,108.67 L258.5,108.73 L258.5,110.07 L258.29,110.13 L258.07,110.2 L257.86,110.27 L257.64,110.35 L257.43,110.43 L257.21,110.52 L257,110.62 L256.78,110.72 L256.56,110.84 L256.35,110.96 L256.13,111.09 L255.92,111.23 L255.7,111.38 L255.49,111.54 L255.28,111.72 L255.06,111.9 L254.84,112.1 L254.63,112.31 L254.41,112.53 L254.2,112.77 L253.99,113.02 L253.77,113.29 L253.56,113.57 L253.34,113.87 L253.12,114.19 L252.91,114.52 L252.69,114.87 L252.48,115.24 L252.26,115.62 L252.05,116.02 L251.84,116.44 L251.62,116.87 L251.41,117.32 L251.19,117.79 L250.97,118.26 L250.76,118.76 L250.54,119.26 L250.33,119.77 L250.12,120.28 L249.9,120.8 L249.69,121.31 L249.47,121.82 L249.25,122.31 L249.04,122.77 L248.82,123.2 L248.61,123.56 L248.4,123.8 L248.18,123.63 L247.97,123.39 L247.75,123.1 L247.53,122.78 L247.32,122.45 L247.1,122.09 L246.89,121.73 L246.68,121.36 L246.46,120.98 L246.25,120.6 L246.03,120.23 L245.81,119.85 L245.6,119.47 L245.38,119.1 L245.17,118.74 L244.96,118.37 L244.74,118.02 L244.53,117.67 L244.31,117.33 L244.09,117 L243.88,116.68 L243.66,116.36 L243.45,116.06 L243.24,115.76 L243.02,115.47 L242.81,115.2 L242.59,114.93 L242.38,114.67 L242.16,114.42 L241.94,114.18 L241.73,113.94 L241.51,113.72 L241.3,113.5 L241.09,113.3 L240.87,113.1 L240.66,112.91 L240.44,112.73 L240.22,112.55 L240.01,112.39 L239.79,112.23 L239.58,112.08 L239.37,111.93 L239.15,111.79 L238.94,111.66 L238.72,111.54 L238.5,111.42 L238.29,111.31 L238.07,111.2 L237.86,111.09 L237.65,111 L237.43,110.91 L237.22,110.82 L237,110.73Z" fill="#7fcf55"/>
<path d="M237,109.4 L237.15,108.71 L237.3,108.28 L237.45,108.4 L237.6,109.09 L237.75,110.05 L237.9,110.81 L238.05,110.91 L238.2,110.2 L238.35,108.96 L238.5,107.77 L238.65,107.3 L238.8,107.91 L238.95,109.4 L239.1,111.09 L239.25,112.1 L239.4,111.77 L239.55,110.13 L239.7,107.89 L239.85,106.2 L240,106.01 L240.15,107.62 L240.3,110.37 L240.45,112.9 L240.6,113.84 L240.75,112.52 L240.9,109.4 L241.05,105.97 L241.2,104.02 L241.35,104.73 L241.5,107.98 L241.65,112.28 L241.8,115.43 L241.95,115.69 L242.1,112.65 L242.25,107.66 L242.4,103.19 L242.55,101.62 L242.7,104.02 L242.85,109.4 L243,115.16 L243.15,118.3 L243.3,117.01 L243.45,111.68 L243.6,104.85 L243.75,99.98 L243.9,99.73 L244.05,104.47 L244.2,112 L244.35,118.56 L244.5,120.69 L244.65,117.1 L244.8,109.4 L244.95,101.4 L245.1,97.2 L245.25,99.12 L245.4,106.36 L245.55,115.38 L245.7,121.59 L245.85,121.74 L246,115.6 L246.15,106.18 L246.3,98.22 L246.45,95.81 L246.6,100.26 L246.75,109.4 L246.9,118.63 L247.05,123.26 L247.2,120.91 L247.35,112.75 L247.5,102.9 L247.65,96.33 L247.8,96.36 L247.95,102.94 L248.1,112.71 L248.25,120.72 L248.4,122.96 L248.55,118.39 L248.7,109.4 L248.85,100.59 L249,96.35 L249.15,98.72 L249.3,106.34 L249.45,115.26 L249.6,121.02 L249.75,120.82 L249.9,114.98 L250.05,106.58 L250.2,99.91 L250.35,98.19 L250.5,102.08 L250.65,109.4 L250.8,116.38 L250.95,119.58 L251.1,117.62 L251.25,111.72 L251.4,105.02 L251.55,100.84 L251.7,101.11 L251.85,105.41 L252,111.39 L252.15,116 L252.3,117.08 L252.45,114.35 L252.6,109.4 L252.75,104.82 L252.9,102.81 L253.05,104.16 L253.2,107.94 L253.35,112.11 L253.5,114.62 L253.65,114.39 L253.8,111.77 L253.95,108.24 L254.1,105.6 L254.25,105.04 L254.4,106.63 L254.55,109.4 L254.7,111.89 L254.85,112.93 L255,112.17 L255.15,110.16 L255.3,108.01 L255.45,106.76 L255.6,106.91 L255.75,108.24 L255.9,109.96 L256.05,111.22 L256.2,111.45 L256.35,110.68 L256.5,109.4 L256.65,108.28 L256.8,107.83 L256.95,108.19 L257.1,109.07 L257.25,109.99 L257.4,110.51 L257.55,110.43 L257.7,109.87 L257.85,109.17 L258,108.68 L258.15,108.6 L258.3,108.91 L258.45,109.4" fill="none" stroke="#3fa51c" stroke-width="0.5" transform="rotate(90 247.4 109.4)" opacity="0.0"/>
<path d="M237.4,107.94 L237.4,110.86 M238.5,107.43 L238.5,111.37 M239.6,106.76 L239.6,112.04 M240.7,105.92 L240.7,112.88 M241.8,104.88 L241.8,113.92 M242.9,103.6 L242.9,115.2 M244,102.1 L244,116.7 M245.1,100.37 L245.1,118.43 M246.2,98.51 L246.2,120.29 M247.3,96.66 L247.3,122.14 M248.4,95.3 L248.4,123.5 M249.5,97.31 L249.5,121.49 M250.6,99.88 L250.6,118.92 M251.7,102.24 L251.7,116.56 M252.8,104.21 L252.8,114.59 M253.9,105.75 L253.9,113.05 M255,106.9 L255,111.9 M256.1,107.72 L256.1,111.08 M257.2,108.3 L257.2,110.5 M258.3,108.69 L258.3,110.11 " stroke="#46a81c" stroke-width="0.7" opacity="0.9"/>
<text x="210" y="116.4" font-family="Liberation Sans" font-size="9.5" fill="#5cbb2e" font-weight="normal" font-style="normal" text-anchor="start" >pump</text>
<line x1="260.4" y1="74" x2="260.4" y2="151.8" stroke="#52c22a" stroke-width="2" stroke-dasharray="3.2 1"/>
<path d="M258.1,75 L260.6,69.2 L263.1,75Z" fill="#52c22a"/>
<path d="M265.8,69.3 L265.8,62" stroke="#e03a3a" stroke-width="0.9"/><path d="M264.3,62.6 L265.8,59.8 L267.3,62.6Z" fill="#e03a3a"/>
<path d="M271.4,59.5 L271.89,59.7 L272.3,59.9 L272.55,60.1 L272.59,60.3 L272.43,60.5 L272.08,60.7 L271.61,60.9 L271.11,61.1 L270.66,61.3 L270.34,61.5 L270.2,61.7 L270.28,61.9 L270.56,62.1 L270.98,62.3 L271.48,62.5 L271.96,62.7 L272.35,62.9 L272.57,63.1 L272.58,63.3 L272.38,63.5 L272.01,63.7 L271.53,63.9 L271.03,64.1 L270.6,64.3 L270.3,64.5 L270.2,64.7 L270.31,64.9 L270.61,65.1 L271.06,65.3 L271.56,65.5 L272.03,65.7 L272.4,65.9 L272.58,66.1 L272.56,66.3 L272.33,66.5 L271.94,66.7 L271.46,66.9 L270.96,67.1 L270.54,67.3 L270.27,67.5 L270.2,67.7 L270.35,67.9 L270.68,68.1 L271.13,68.3 L271.64,68.5 L272.1,68.7 L272.44,68.9 L272.59,69.1" fill="none" stroke="#e03a3a" stroke-width="0.8"/>
<linearGradient id="ribg" x1="0" y1="0" x2="1" y2="0"><stop offset="0" stop-color="#e4e4e4" stop-opacity="0.3"/><stop offset="0.3" stop-color="#d9d9d9"/><stop offset="1" stop-color="#cfcfcf"/></linearGradient>
<text x="381.6" y="33.6" font-family="Liberation Sans" font-size="9.6" fill="#3b3be6">Re[&#916;<tspan font-style="italic">E</tspan><tspan font-size="6.8">NF</tspan>]</text>
<text x="381.9" y="79.8" font-family="Liberation Sans" font-size="9.6" fill="#f07a55">Im[&#916;<tspan font-style="italic">E</tspan><tspan font-size="6.8">NF</tspan>]</text>
<path d="M398,50.5 L480,33 L480,43.5 L414,57Z" fill="url(#ribg)"/>
<path d="M398,101.5 L480,84 L480,94 L416,107.5Z" fill="url(#ribg)"/>
<path d="M395,50.44 L395.25,50.46 L395.5,50.48 L395.75,50.5 L396,50.51 L396.25,50.52 L396.5,50.53 L396.75,50.54 L397,50.54 L397.25,50.54 L397.5,50.53 L397.75,50.52 L398,50.5 L398.25,50.47 L398.5,50.43 L398.75,50.39 L399,50.33 L399.25,50.26 L399.5,50.18 L399.75,50.09 L400,49.98 L400.25,49.85 L400.5,49.7 L400.75,49.53 L401,49.34 L401.25,49.13 L401.5,48.89 L401.75,48.63 L402,48.34 L402.25,48.03 L402.5,47.69 L402.75,47.32 L403,46.93 L403.25,46.52 L403.5,46.08 L403.75,45.62 L404,45.14 L404.25,44.65 L404.5,44.14 L404.75,43.63 L405,43.12 L405.25,42.61 L405.5,42.1 L405.75,41.62 L406,41.16 L406.25,40.72 L406.5,40.33 L406.75,39.98 L407,39.68 L407.25,39.44 L407.5,39.27 L407.75,39.18 L408,39.16 L408.25,39.23 L408.5,39.39 L408.75,39.64 L409,39.98 L409.25,40.43 L409.5,40.97 L409.75,41.6 L410,42.33 L410.25,43.15 L410.5,44.05 L410.75,45.02 L411,46.07 L411.25,47.17 L411.5,48.32 L411.75,49.51 L412,50.72 L412.25,51.95 L412.5,53.19 L412.75,54.41 L413,55.61 L413.25,56.78 L413.5,57.9 L413.75,58.97 L414,59.97 L414.25,60.9 L414.5,61.75 L414.75,62.52 L415,63.19 L415.25,63.77 L415.5,64.25 L415.75,64.63 L416,64.92 L416.25,65.12 L416.5,65.22 L416.75,65.24 L417,65.17 L417.25,65.03 L417.5,64.82 L417.75,64.55 L418,64.22 L418.25,63.84 L418.5,63.42 L418.75,62.97 L419,62.49 L419.25,62 L419.5,61.49 L419.75,60.98 L420,60.46 L420.25,59.95 L420.5,59.45 L420.75,58.97 L421,58.5 L421.25,58.06 L421.5,57.63 L421.75,57.23 L422,56.85 L422.25,56.5 L422.5,56.18 L422.75,55.88 L423,55.61 L423.25,55.36 L423.5,55.14 L423.75,54.94 L424,54.77 L424.25,54.61 L424.5,54.47 L424.75,54.36 L425,54.25 L425.25,54.17 L425.5,54.09 L425.75,54.03 L426,53.98 L426.25,53.94 L426.5,53.91 L426.75,53.89 L427,53.88 L427.25,53.87 L427.5,53.86 L427.75,53.86 L428,53.87 L428.25,53.87 L428.5,53.88 L428.75,53.9 L429,53.91 L429.25,53.93 L429.5,53.95 L429.75,53.97 L430,53.99 L430,53.97 L395,50.47Z" fill="#6b6bf0" fill-opacity="0.55" stroke="none"/>
<path d="M395,50.44 L395.25,50.46 L395.5,50.48 L395.75,50.5 L396,50.51 L396.25,50.52 L396.5,50.53 L396.75,50.54 L397,50.54 L397.25,50.54 L397.5,50.53 L397.75,50.52 L398,50.5 L398.25,50.47 L398.5,50.43 L398.75,50.39 L399,50.33 L399.25,50.26 L399.5,50.18 L399.75,50.09 L400,49.98 L400.25,49.85 L400.5,49.7 L400.75,49.53 L401,49.34 L401.25,49.13 L401.5,48.89 L401.75,48.63 L402,48.34 L402.25,48.03 L402.5,47.69 L402.75,47.32 L403,46.93 L403.25,46.52 L403.5,46.08 L403.75,45.62 L404,45.14 L404.25,44.65 L404.5,44.14 L404.75,43.63 L405,43.12 L405.25,42.61 L405.5,42.1 L405.75,41.62 L406,41.16 L406.25,40.72 L406.5,40.33 L406.75,39.98 L407,39.68 L407.25,39.44 L407.5,39.27 L407.75,39.18 L408,39.16 L408.25,39.23 L408.5,39.39 L408.75,39.64 L409,39.98 L409.25,40.43 L409.5,40.97 L409.75,41.6 L410,42.33 L410.25,43.15 L410.5,44.05 L410.75,45.02 L411,46.07 L411.25,47.17 L411.5,48.32 L411.75,49.51 L412,50.72 L412.25,51.95 L412.5,53.19 L412.75,54.41 L413,55.61 L413.25,56.78 L413.5,57.9 L413.75,58.97 L414,59.97 L414.25,60.9 L414.5,61.75 L414.75,62.52 L415,63.19 L415.25,63.77 L415.5,64.25 L415.75,64.63 L416,64.92 L416.25,65.12 L416.5,65.22 L416.75,65.24 L417,65.17 L417.25,65.03 L417.5,64.82 L417.75,64.55 L418,64.22 L418.25,63.84 L418.5,63.42 L418.75,62.97 L419,62.49 L419.25,62 L419.5,61.49 L419.75,60.98 L420,60.46 L420.25,59.95 L420.5,59.45 L420.75,58.97 L421,58.5 L421.25,58.06 L421.5,57.63 L421.75,57.23 L422,56.85 L422.25,56.5 L422.5,56.18 L422.75,55.88 L423,55.61 L423.25,55.36 L423.5,55.14 L423.75,54.94 L424,54.77 L424.25,54.61 L424.5,54.47 L424.75,54.36 L425,54.25 L425.25,54.17 L425.5,54.09 L425.75,54.03 L426,53.98 L426.25,53.94 L426.5,53.91 L426.75,53.89 L427,53.88 L427.25,53.87 L427.5,53.86 L427.75,53.86 L428,53.87 L428.25,53.87 L428.5,53.88 L428.75,53.9 L429,53.91 L429.25,53.93 L429.5,53.95 L429.75,53.97 L430,53.99" fill="none" stroke="#4545e6" stroke-width="0.9"/>
<path d="M414,46.77 L414.25,46.8 L414.5,46.82 L414.75,46.84 L415,46.86 L415.25,46.88 L415.5,46.9 L415.75,46.92 L416,46.94 L416.25,46.95 L416.5,46.96 L416.75,46.97 L417,46.97 L417.25,46.97 L417.5,46.97 L417.75,46.96 L418,46.94 L418.25,46.92 L418.5,46.88 L418.75,46.84 L419,46.79 L419.25,46.72 L419.5,46.64 L419.75,46.55 L420,46.44 L420.25,46.31 L420.5,46.17 L420.75,46 L421,45.82 L421.25,45.61 L421.5,45.39 L421.75,45.14 L422,44.87 L422.25,44.59 L422.5,44.28 L422.75,43.96 L423,43.63 L423.25,43.29 L423.5,42.93 L423.75,42.58 L424,42.23 L424.25,41.89 L424.5,41.56 L424.75,41.26 L425,40.97 L425.25,40.73 L425.5,40.52 L425.75,40.36 L426,40.26 L426.25,40.21 L426.5,40.23 L426.75,40.32 L427,40.48 L427.25,40.71 L427.5,41.03 L427.75,41.41 L428,41.88 L428.25,42.42 L428.5,43.02 L428.75,43.69 L429,44.41 L429.25,45.19 L429.5,46 L429.75,46.84 L430,47.7 L430.25,48.57 L430.5,49.44 L430.75,50.3 L431,51.13 L431.25,51.93 L431.5,52.68 L431.75,53.39 L432,54.03 L432.25,54.61 L432.5,55.12 L432.75,55.55 L433,55.91 L433.25,56.19 L433.5,56.4 L433.75,56.53 L434,56.59 L434.25,56.58 L434.5,56.51 L434.75,56.38 L435,56.2 L435.25,55.98 L435.5,55.72 L435.75,55.42 L436,55.11 L436.25,54.77 L436.5,54.43 L436.75,54.08 L437,53.72 L437.25,53.38 L437.5,53.04 L437.75,52.71 L438,52.39 L438.25,52.1 L438.5,51.82 L438.75,51.56 L439,51.32 L439.25,51.1 L439.5,50.91 L439.75,50.73 L440,50.57 L440.25,50.44 L440.5,50.32 L440.75,50.21 L441,50.12 L441.25,50.05 L441.5,49.99 L441.75,49.94 L442,49.9 L442.25,49.87 L442.5,49.85 L442.75,49.84 L443,49.83 L443.25,49.83 L443.5,49.83 L443.75,49.83 L444,49.84 L444.25,49.86 L444.5,49.87 L444.75,49.89 L445,49.91 L445.25,49.93 L445.5,49.95 L445.75,49.97 L446,49.99 L446.25,50.01 L446.5,50.04 L446.75,50.06 L447,50.08 L447,50.08 L414,46.78Z" fill="#6b6bf0" fill-opacity="0.55" stroke="none"/>
<path d="M414,46.77 L414.25,46.8 L414.5,46.82 L414.75,46.84 L415,46.86 L415.25,46.88 L415.5,46.9 L415.75,46.92 L416,46.94 L416.25,46.95 L416.5,46.96 L416.75,46.97 L417,46.97 L417.25,46.97 L417.5,46.97 L417.75,46.96 L418,46.94 L418.25,46.92 L418.5,46.88 L418.75,46.84 L419,46.79 L419.25,46.72 L419.5,46.64 L419.75,46.55 L420,46.44 L420.25,46.31 L420.5,46.17 L420.75,46 L421,45.82 L421.25,45.61 L421.5,45.39 L421.75,45.14 L422,44.87 L422.25,44.59 L422.5,44.28 L422.75,43.96 L423,43.63 L423.25,43.29 L423.5,42.93 L423.75,42.58 L424,42.23 L424.25,41.89 L424.5,41.56 L424.75,41.26 L425,40.97 L425.25,40.73 L425.5,40.52 L425.75,40.36 L426,40.26 L426.25,40.21 L426.5,40.23 L426.75,40.32 L427,40.48 L427.25,40.71 L427.5,41.03 L427.75,41.41 L428,41.88 L428.25,42.42 L428.5,43.02 L428.75,43.69 L429,44.41 L429.25,45.19 L429.5,46 L429.75,46.84 L430,47.7 L430.25,48.57 L430.5,49.44 L430.75,50.3 L431,51.13 L431.25,51.93 L431.5,52.68 L431.75,53.39 L432,54.03 L432.25,54.61 L432.5,55.12 L432.75,55.55 L433,55.91 L433.25,56.19 L433.5,56.4 L433.75,56.53 L434,56.59 L434.25,56.58 L434.5,56.51 L434.75,56.38 L435,56.2 L435.25,55.98 L435.5,55.72 L435.75,55.42 L436,55.11 L436.25,54.77 L436.5,54.43 L436.75,54.08 L437,53.72 L437.25,53.38 L437.5,53.04 L437.75,52.71 L438,52.39 L438.25,52.1 L438.5,51.82 L438.75,51.56 L439,51.32 L439.25,51.1 L439.5,50.91 L439.75,50.73 L440,50.57 L440.25,50.44 L440.5,50.32 L440.75,50.21 L441,50.12 L441.25,50.05 L441.5,49.99 L441.75,49.94 L442,49.9 L442.25,49.87 L442.5,49.85 L442.75,49.84 L443,49.83 L443.25,49.83 L443.5,49.83 L443.75,49.83 L444,49.84 L444.25,49.86 L444.5,49.87 L444.75,49.89 L445,49.91 L445.25,49.93 L445.5,49.95 L445.75,49.97 L446,49.99 L446.25,50.01 L446.5,50.04 L446.75,50.06 L447,50.08" fill="none" stroke="#4545e6" stroke-width="0.9"/>
<path d="M434,40.72 L434.25,40.74 L434.5,40.76 L434.75,40.79 L435,40.81 L435.25,40.83 L435.5,40.85 L435.75,40.87 L436,40.89 L436.25,40.91 L436.5,40.93 L436.75,40.94 L437,40.95 L437.25,40.97 L437.5,40.97 L437.75,40.98 L438,40.98 L438.25,40.98 L438.5,40.97 L438.75,40.96 L439,40.94 L439.25,40.92 L439.5,40.89 L439.75,40.85 L440,40.81 L440.25,40.75 L440.5,40.69 L440.75,40.62 L441,40.54 L441.25,40.44 L441.5,40.34 L441.75,40.22 L442,40.1 L442.25,39.96 L442.5,39.82 L442.75,39.67 L443,39.51 L443.25,39.34 L443.5,39.16 L443.75,38.99 L444,38.81 L444.25,38.63 L444.5,38.46 L444.75,38.3 L445,38.14 L445.25,38 L445.5,37.87 L445.75,37.76 L446,37.68 L446.25,37.62 L446.5,37.59 L446.75,37.59 L447,37.63 L447.25,37.7 L447.5,37.81 L447.75,37.96 L448,38.14 L448.25,38.37 L448.5,38.63 L448.75,38.93 L449,39.27 L449.25,39.64 L449.5,40.03 L449.75,40.45 L450,40.9 L450.25,41.36 L450.5,41.83 L450.75,42.3 L451,42.78 L451.25,43.26 L451.5,43.72 L451.75,44.17 L452,44.6 L452.25,45.01 L452.5,45.39 L452.75,45.74 L453,46.05 L453.25,46.33 L453.5,46.57 L453.75,46.77 L454,46.94 L454.25,47.06 L454.5,47.15 L454.75,47.2 L455,47.21 L455.25,47.19 L455.5,47.15 L455.75,47.07 L456,46.97 L456.25,46.85 L456.5,46.72 L456.75,46.57 L457,46.41 L457.25,46.24 L457.5,46.06 L457.75,45.88 L458,45.71 L458.25,45.53 L458.5,45.36 L458.75,45.2 L459,45.04 L459.25,44.89 L459.5,44.75 L459.75,44.62 L460,44.51 L460.25,44.4 L460.5,44.3 L460.75,44.21 L461,44.14 L461.25,44.07 L461.5,44.01 L461.75,43.96 L462,43.92 L462.25,43.89 L462.5,43.86 L462.75,43.85 L463,43.83 L463.25,43.82 L463.5,43.82 L463.75,43.82 L464,43.82 L464.25,43.83 L464.5,43.84 L464.75,43.85 L465,43.87 L465.25,43.88 L465.5,43.9 L465.75,43.92 L466,43.94 L466,43.92 L434,40.72Z" fill="#6b6bf0" fill-opacity="0.55" stroke="none"/>
<path d="M434,40.72 L434.25,40.74 L434.5,40.76 L434.75,40.79 L435,40.81 L435.25,40.83 L435.5,40.85 L435.75,40.87 L436,40.89 L436.25,40.91 L436.5,40.93 L436.75,40.94 L437,40.95 L437.25,40.97 L437.5,40.97 L437.75,40.98 L438,40.98 L438.25,40.98 L438.5,40.97 L438.75,40.96 L439,40.94 L439.25,40.92 L439.5,40.89 L439.75,40.85 L440,40.81 L440.25,40.75 L440.5,40.69 L440.75,40.62 L441,40.54 L441.25,40.44 L441.5,40.34 L441.75,40.22 L442,40.1 L442.25,39.96 L442.5,39.82 L442.75,39.67 L443,39.51 L443.25,39.34 L443.5,39.16 L443.75,38.99 L444,38.81 L444.25,38.63 L444.5,38.46 L444.75,38.3 L445,38.14 L445.25,38 L445.5,37.87 L445.75,37.76 L446,37.68 L446.25,37.62 L446.5,37.59 L446.75,37.59 L447,37.63 L447.25,37.7 L447.5,37.81 L447.75,37.96 L448,38.14 L448.25,38.37 L448.5,38.63 L448.75,38.93 L449,39.27 L449.25,39.64 L449.5,40.03 L449.75,40.45 L450,40.9 L450.25,41.36 L450.5,41.83 L450.75,42.3 L451,42.78 L451.25,43.26 L451.5,43.72 L451.75,44.17 L452,44.6 L452.25,45.01 L452.5,45.39 L452.75,45.74 L453,46.05 L453.25,46.33 L453.5,46.57 L453.75,46.77 L454,46.94 L454.25,47.06 L454.5,47.15 L454.75,47.2 L455,47.21 L455.25,47.19 L455.5,47.15 L455.75,47.07 L456,46.97 L456.25,46.85 L456.5,46.72 L456.75,46.57 L457,46.41 L457.25,46.24 L457.5,46.06 L457.75,45.88 L458,45.71 L458.25,45.53 L458.5,45.36 L458.75,45.2 L459,45.04 L459.25,44.89 L459.5,44.75 L459.75,44.62 L460,44.51 L460.25,44.4 L460.5,44.3 L460.75,44.21 L461,44.14 L461.25,44.07 L461.5,44.01 L461.75,43.96 L462,43.92 L462.25,43.89 L462.5,43.86 L462.75,43.85 L463,43.83 L463.25,43.82 L463.5,43.82 L463.75,43.82 L464,43.82 L464.25,43.83 L464.5,43.84 L464.75,43.85 L465,43.87 L465.25,43.88 L465.5,43.9 L465.75,43.92 L466,43.94" fill="none" stroke="#4545e6" stroke-width="0.9"/>
<path d="M455,35.68 L455.25,35.7 L455.5,35.73 L455.75,35.75 L456,35.77 L456.25,35.8 L456.5,35.82 L456.75,35.84 L457,35.86 L457.25,35.88 L457.5,35.9 L457.75,35.92 L458,35.94 L458.25,35.95 L458.5,35.96 L458.75,35.97 L459,35.98 L459.25,35.99 L459.5,35.99 L459.75,35.98 L460,35.98 L460.25,35.96 L460.5,35.95 L460.75,35.92 L461,35.89 L461.25,35.86 L461.5,35.81 L461.75,35.76 L462,35.71 L462.25,35.64 L462.5,35.57 L462.75,35.49 L463,35.41 L463.25,35.32 L463.5,35.23 L463.75,35.13 L464,35.03 L464.25,34.93 L464.5,34.84 L464.75,34.75 L465,34.66 L465.25,34.59 L465.5,34.53 L465.75,34.47 L466,34.44 L466.25,34.43 L466.5,34.43 L466.75,34.46 L467,34.51 L467.25,34.59 L467.5,34.69 L467.75,34.82 L468,34.97 L468.25,35.15 L468.5,35.36 L468.75,35.58 L469,35.83 L469.25,36.1 L469.5,36.37 L469.75,36.66 L470,36.96 L470.25,37.26 L470.5,37.56 L470.75,37.85 L471,38.14 L471.25,38.41 L471.5,38.67 L471.75,38.91 L472,39.13 L472.25,39.32 L472.5,39.49 L472.75,39.64 L473,39.76 L473.25,39.85 L473.5,39.91 L473.75,39.96 L474,39.97 L474.25,39.97 L474.5,39.95 L474.75,39.91 L475,39.85 L475.25,39.78 L475.5,39.7 L475.75,39.62 L476,39.52 L476.25,39.43 L476.5,39.33 L476.75,39.23 L477,39.14 L477.25,39.04 L477.5,38.96 L477.75,38.88 L478,38.8 L478.25,38.73 L478.5,38.67 L478.75,38.62 L479,38.57 L479.25,38.53 L479.5,38.49 L479.75,38.47 L480,38.45 L480.25,38.43 L480.5,38.42 L480.75,38.41 L481,38.41 L481.25,38.41 L481.5,38.42 L481.75,38.43 L482,38.44 L482,38.38 L455,35.68Z" fill="#6b6bf0" fill-opacity="0.55" stroke="none"/>
<path d="M455,35.68 L455.25,35.7 L455.5,35.73 L455.75,35.75 L456,35.77 L456.25,35.8 L456.5,35.82 L456.75,35.84 L457,35.86 L457.25,35.88 L457.5,35.9 L457.75,35.92 L458,35.94 L458.25,35.95 L458.5,35.96 L458.75,35.97 L459,35.98 L459.25,35.99 L459.5,35.99 L459.75,35.98 L460,35.98 L460.25,35.96 L460.5,35.95 L460.75,35.92 L461,35.89 L461.25,35.86 L461.5,35.81 L461.75,35.76 L462,35.71 L462.25,35.64 L462.5,35.57 L462.75,35.49 L463,35.41 L463.25,35.32 L463.5,35.23 L463.75,35.13 L464,35.03 L464.25,34.93 L464.5,34.84 L464.75,34.75 L465,34.66 L465.25,34.59 L465.5,34.53 L465.75,34.47 L466,34.44 L466.25,34.43 L466.5,34.43 L466.75,34.46 L467,34.51 L467.25,34.59 L467.5,34.69 L467.75,34.82 L468,34.97 L468.25,35.15 L468.5,35.36 L468.75,35.58 L469,35.83 L469.25,36.1 L469.5,36.37 L469.75,36.66 L470,36.96 L470.25,37.26 L470.5,37.56 L470.75,37.85 L471,38.14 L471.25,38.41 L471.5,38.67 L471.75,38.91 L472,39.13 L472.25,39.32 L472.5,39.49 L472.75,39.64 L473,39.76 L473.25,39.85 L473.5,39.91 L473.75,39.96 L474,39.97 L474.25,39.97 L474.5,39.95 L474.75,39.91 L475,39.85 L475.25,39.78 L475.5,39.7 L475.75,39.62 L476,39.52 L476.25,39.43 L476.5,39.33 L476.75,39.23 L477,39.14 L477.25,39.04 L477.5,38.96 L477.75,38.88 L478,38.8 L478.25,38.73 L478.5,38.67 L478.75,38.62 L479,38.57 L479.25,38.53 L479.5,38.49 L479.75,38.47 L480,38.45 L480.25,38.43 L480.5,38.42 L480.75,38.41 L481,38.41 L481.25,38.41 L481.5,38.42 L481.75,38.43 L482,38.44" fill="none" stroke="#4545e6" stroke-width="0.9"/>
<path d="M408,39.6 L426,40.6 L446.5,38.3 L466.5,35" fill="none" stroke="#4545e6" stroke-width="0.9" stroke-dasharray="2 1.2"/>
<path d="M398,102.96 L398.25,102.98 L398.5,102.99 L398.75,103.01 L399,103.02 L399.25,103.03 L399.5,103.03 L399.75,103.04 L400,103.03 L400.25,103.02 L400.5,103 L400.75,102.98 L401,102.94 L401.25,102.89 L401.5,102.83 L401.75,102.76 L402,102.66 L402.25,102.55 L402.5,102.42 L402.75,102.26 L403,102.08 L403.25,101.86 L403.5,101.62 L403.75,101.35 L404,101.04 L404.25,100.69 L404.5,100.3 L404.75,99.88 L405,99.41 L405.25,98.91 L405.5,98.36 L405.75,97.78 L406,97.16 L406.25,96.5 L406.5,95.81 L406.75,95.1 L407,94.36 L407.25,93.61 L407.5,92.84 L407.75,92.08 L408,91.32 L408.25,90.57 L408.5,89.84 L408.75,89.14 L409,88.48 L409.25,87.87 L409.5,87.31 L409.75,86.82 L410,86.4 L410.25,86.05 L410.5,85.78 L410.75,85.6 L411,85.51 L411.25,85.51 L411.5,85.6 L411.75,85.77 L412,86.04 L412.25,86.39 L412.5,86.82 L412.75,87.32 L413,87.89 L413.25,88.52 L413.5,89.2 L413.75,89.93 L414,90.69 L414.25,91.47 L414.5,92.28 L414.75,93.09 L415,93.91 L415.25,94.72 L415.5,95.52 L415.75,96.3 L416,97.05 L416.25,97.78 L416.5,98.47 L416.75,99.13 L417,99.75 L417.25,100.32 L417.5,100.86 L417.75,101.36 L418,101.82 L418.25,102.24 L418.5,102.62 L418.75,102.97 L419,103.28 L419.25,103.56 L419.5,103.81 L419.75,104.03 L420,104.23 L420.25,104.41 L420.5,104.56 L420.75,104.7 L421,104.82 L421.25,104.92 L421.5,105.02 L421.75,105.1 L422,105.17 L422.25,105.24 L422.5,105.29 L422.75,105.35 L423,105.39 L423.25,105.44 L423.5,105.48 L423.75,105.51 L424,105.55 L424.25,105.58 L424.5,105.61 L424.75,105.64 L425,105.67 L425.25,105.7 L425.5,105.72 L425.75,105.75 L426,105.78 L426.25,105.8 L426.5,105.83 L426.75,105.85 L427,105.88 L427.25,105.9 L427.5,105.93 L427.75,105.95 L428,105.98Z" fill="#f2a083" fill-opacity="0.55" stroke="none"/>
<path d="M398,102.96 L398.25,102.98 L398.5,102.99 L398.75,103.01 L399,103.02 L399.25,103.03 L399.5,103.03 L399.75,103.04 L400,103.03 L400.25,103.02 L400.5,103 L400.75,102.98 L401,102.94 L401.25,102.89 L401.5,102.83 L401.75,102.76 L402,102.66 L402.25,102.55 L402.5,102.42 L402.75,102.26 L403,102.08 L403.25,101.86 L403.5,101.62 L403.75,101.35 L404,101.04 L404.25,100.69 L404.5,100.3 L404.75,99.88 L405,99.41 L405.25,98.91 L405.5,98.36 L405.75,97.78 L406,97.16 L406.25,96.5 L406.5,95.81 L406.75,95.1 L407,94.36 L407.25,93.61 L407.5,92.84 L407.75,92.08 L408,91.32 L408.25,90.57 L408.5,89.84 L408.75,89.14 L409,88.48 L409.25,87.87 L409.5,87.31 L409.75,86.82 L410,86.4 L410.25,86.05 L410.5,85.78 L410.75,85.6 L411,85.51 L411.25,85.51 L411.5,85.6 L411.75,85.77 L412,86.04 L412.25,86.39 L412.5,86.82 L412.75,87.32 L413,87.89 L413.25,88.52 L413.5,89.2 L413.75,89.93 L414,90.69 L414.25,91.47 L414.5,92.28 L414.75,93.09 L415,93.91 L415.25,94.72 L415.5,95.52 L415.75,96.3 L416,97.05 L416.25,97.78 L416.5,98.47 L416.75,99.13 L417,99.75 L417.25,100.32 L417.5,100.86 L417.75,101.36 L418,101.82 L418.25,102.24 L418.5,102.62 L418.75,102.97 L419,103.28 L419.25,103.56 L419.5,103.81 L419.75,104.03 L420,104.23 L420.25,104.41 L420.5,104.56 L420.75,104.7 L421,104.82 L421.25,104.92 L421.5,105.02 L421.75,105.1 L422,105.17 L422.25,105.24 L422.5,105.29 L422.75,105.35 L423,105.39 L423.25,105.44 L423.5,105.48 L423.75,105.51 L424,105.55 L424.25,105.58 L424.5,105.61 L424.75,105.64 L425,105.67 L425.25,105.7 L425.5,105.72 L425.75,105.75 L426,105.78 L426.25,105.8 L426.5,105.83 L426.75,105.85 L427,105.88 L427.25,105.9 L427.5,105.93 L427.75,105.95 L428,105.98" fill="none" stroke="#ef7a58" stroke-width="0.9"/>
<path d="M418,97.62 L418.25,97.64 L418.5,97.66 L418.75,97.68 L419,97.7 L419.25,97.72 L419.5,97.73 L419.75,97.75 L420,97.76 L420.25,97.77 L420.5,97.78 L420.75,97.78 L421,97.78 L421.25,97.78 L421.5,97.77 L421.75,97.76 L422,97.74 L422.25,97.71 L422.5,97.67 L422.75,97.63 L423,97.58 L423.25,97.51 L423.5,97.43 L423.75,97.35 L424,97.24 L424.25,97.13 L424.5,97 L424.75,96.85 L425,96.68 L425.25,96.5 L425.5,96.3 L425.75,96.08 L426,95.85 L426.25,95.59 L426.5,95.32 L426.75,95.03 L427,94.73 L427.25,94.4 L427.5,94.07 L427.75,93.72 L428,93.37 L428.25,93 L428.5,92.63 L428.75,92.26 L429,91.88 L429.25,91.52 L429.5,91.16 L429.75,90.81 L430,90.47 L430.25,90.15 L430.5,89.85 L430.75,89.58 L431,89.34 L431.25,89.12 L431.5,88.94 L431.75,88.8 L432,88.69 L432.25,88.62 L432.5,88.59 L432.75,88.61 L433,88.66 L433.25,88.75 L433.5,88.89 L433.75,89.06 L434,89.27 L434.25,89.51 L434.5,89.79 L434.75,90.1 L435,90.43 L435.25,90.79 L435.5,91.16 L435.75,91.55 L436,91.96 L436.25,92.37 L436.5,92.79 L436.75,93.22 L437,93.64 L437.25,94.06 L437.5,94.47 L437.75,94.87 L438,95.27 L438.25,95.64 L438.5,96.01 L438.75,96.36 L439,96.69 L439.25,97.01 L439.5,97.3 L439.75,97.58 L440,97.84 L440.25,98.09 L440.5,98.31 L440.75,98.52 L441,98.71 L441.25,98.89 L441.5,99.05 L441.75,99.19 L442,99.33 L442.25,99.45 L442.5,99.56 L442.75,99.66 L443,99.75 L443.25,99.83 L443.5,99.91 L443.75,99.97 L444,100.04 L444.25,100.09 L444.5,100.14 L444.75,100.19 L445,100.24 L445.25,100.28 L445.5,100.32 L445.75,100.35 L446,100.39 L446.25,100.42 L446.5,100.45 L446.75,100.48 L447,100.51 L447.25,100.54 L447.5,100.57 L447.75,100.6 L448,100.62Z" fill="#f2a083" fill-opacity="0.55" stroke="none"/>
<path d="M418,97.62 L418.25,97.64 L418.5,97.66 L418.75,97.68 L419,97.7 L419.25,97.72 L419.5,97.73 L419.75,97.75 L420,97.76 L420.25,97.77 L420.5,97.78 L420.75,97.78 L421,97.78 L421.25,97.78 L421.5,97.77 L421.75,97.76 L422,97.74 L422.25,97.71 L422.5,97.67 L422.75,97.63 L423,97.58 L423.25,97.51 L423.5,97.43 L423.75,97.35 L424,97.24 L424.25,97.13 L424.5,97 L424.75,96.85 L425,96.68 L425.25,96.5 L425.5,96.3 L425.75,96.08 L426,95.85 L426.25,95.59 L426.5,95.32 L426.75,95.03 L427,94.73 L427.25,94.4 L427.5,94.07 L427.75,93.72 L428,93.37 L428.25,93 L428.5,92.63 L428.75,92.26 L429,91.88 L429.25,91.52 L429.5,91.16 L429.75,90.81 L430,90.47 L430.25,90.15 L430.5,89.85 L430.75,89.58 L431,89.34 L431.25,89.12 L431.5,88.94 L431.75,88.8 L432,88.69 L432.25,88.62 L432.5,88.59 L432.75,88.61 L433,88.66 L433.25,88.75 L433.5,88.89 L433.75,89.06 L434,89.27 L434.25,89.51 L434.5,89.79 L434.75,90.1 L435,90.43 L435.25,90.79 L435.5,91.16 L435.75,91.55 L436,91.96 L436.25,92.37 L436.5,92.79 L436.75,93.22 L437,93.64 L437.25,94.06 L437.5,94.47 L437.75,94.87 L438,95.27 L438.25,95.64 L438.5,96.01 L438.75,96.36 L439,96.69 L439.25,97.01 L439.5,97.3 L439.75,97.58 L440,97.84 L440.25,98.09 L440.5,98.31 L440.75,98.52 L441,98.71 L441.25,98.89 L441.5,99.05 L441.75,99.19 L442,99.33 L442.25,99.45 L442.5,99.56 L442.75,99.66 L443,99.75 L443.25,99.83 L443.5,99.91 L443.75,99.97 L444,100.04 L444.25,100.09 L444.5,100.14 L444.75,100.19 L445,100.24 L445.25,100.28 L445.5,100.32 L445.75,100.35 L446,100.39 L446.25,100.42 L446.5,100.45 L446.75,100.48 L447,100.51 L447.25,100.54 L447.5,100.57 L447.75,100.6 L448,100.62" fill="none" stroke="#ef7a58" stroke-width="0.9"/>
<path d="M438,92.31 L438.25,92.33 L438.5,92.34 L438.75,92.36 L439,92.37 L439.25,92.39 L439.5,92.4 L439.75,92.41 L440,92.42 L440.25,92.42 L440.5,92.42 L440.75,92.42 L441,92.41 L441.25,92.4 L441.5,92.39 L441.75,92.37 L442,92.35 L442.25,92.32 L442.5,92.28 L442.75,92.24 L443,92.19 L443.25,92.14 L443.5,92.07 L443.75,92 L444,91.93 L444.25,91.84 L444.5,91.74 L444.75,91.64 L445,91.53 L445.25,91.41 L445.5,91.28 L445.75,91.14 L446,90.99 L446.25,90.84 L446.5,90.68 L446.75,90.51 L447,90.34 L447.25,90.16 L447.5,89.98 L447.75,89.79 L448,89.6 L448.25,89.42 L448.5,89.23 L448.75,89.05 L449,88.87 L449.25,88.69 L449.5,88.52 L449.75,88.36 L450,88.21 L450.25,88.07 L450.5,87.94 L450.75,87.83 L451,87.73 L451.25,87.64 L451.5,87.58 L451.75,87.53 L452,87.5 L452.25,87.48 L452.5,87.49 L452.75,87.52 L453,87.56 L453.25,87.63 L453.5,87.71 L453.75,87.82 L454,87.94 L454.25,88.07 L454.5,88.23 L454.75,88.39 L455,88.58 L455.25,88.77 L455.5,88.97 L455.75,89.18 L456,89.4 L456.25,89.63 L456.5,89.86 L456.75,90.1 L457,90.33 L457.25,90.57 L457.5,90.81 L457.75,91.04 L458,91.27 L458.25,91.5 L458.5,91.72 L458.75,91.94 L459,92.15 L459.25,92.35 L459.5,92.55 L459.75,92.73 L460,92.91 L460.25,93.08 L460.5,93.24 L460.75,93.39 L461,93.54 L461.25,93.67 L461.5,93.8 L461.75,93.92 L462,94.03 L462.25,94.13 L462.5,94.23 L462.75,94.32 L463,94.4 L463.25,94.48 L463.5,94.55 L463.75,94.62 L464,94.69 L464.25,94.74 L464.5,94.8 L464.75,94.85 L465,94.9 L465.25,94.94 L465.5,94.99 L465.75,95.03 L466,95.07 L466.25,95.1 L466.5,95.14 L466.75,95.17 L467,95.2 L467.25,95.23 L467.5,95.26 L467.75,95.29 L468,95.32Z" fill="#f2a083" fill-opacity="0.55" stroke="none"/>
<path d="M438,92.31 L438.25,92.33 L438.5,92.34 L438.75,92.36 L439,92.37 L439.25,92.39 L439.5,92.4 L439.75,92.41 L440,92.42 L440.25,92.42 L440.5,92.42 L440.75,92.42 L441,92.41 L441.25,92.4 L441.5,92.39 L441.75,92.37 L442,92.35 L442.25,92.32 L442.5,92.28 L442.75,92.24 L443,92.19 L443.25,92.14 L443.5,92.07 L443.75,92 L444,91.93 L444.25,91.84 L444.5,91.74 L444.75,91.64 L445,91.53 L445.25,91.41 L445.5,91.28 L445.75,91.14 L446,90.99 L446.25,90.84 L446.5,90.68 L446.75,90.51 L447,90.34 L447.25,90.16 L447.5,89.98 L447.75,89.79 L448,89.6 L448.25,89.42 L448.5,89.23 L448.75,89.05 L449,88.87 L449.25,88.69 L449.5,88.52 L449.75,88.36 L450,88.21 L450.25,88.07 L450.5,87.94 L450.75,87.83 L451,87.73 L451.25,87.64 L451.5,87.58 L451.75,87.53 L452,87.5 L452.25,87.48 L452.5,87.49 L452.75,87.52 L453,87.56 L453.25,87.63 L453.5,87.71 L453.75,87.82 L454,87.94 L454.25,88.07 L454.5,88.23 L454.75,88.39 L455,88.58 L455.25,88.77 L455.5,88.97 L455.75,89.18 L456,89.4 L456.25,89.63 L456.5,89.86 L456.75,90.1 L457,90.33 L457.25,90.57 L457.5,90.81 L457.75,91.04 L458,91.27 L458.25,91.5 L458.5,91.72 L458.75,91.94 L459,92.15 L459.25,92.35 L459.5,92.55 L459.75,92.73 L460,92.91 L460.25,93.08 L460.5,93.24 L460.75,93.39 L461,93.54 L461.25,93.67 L461.5,93.8 L461.75,93.92 L462,94.03 L462.25,94.13 L462.5,94.23 L462.75,94.32 L463,94.4 L463.25,94.48 L463.5,94.55 L463.75,94.62 L464,94.69 L464.25,94.74 L464.5,94.8 L464.75,94.85 L465,94.9 L465.25,94.94 L465.5,94.99 L465.75,95.03 L466,95.07 L466.25,95.1 L466.5,95.14 L466.75,95.17 L467,95.2 L467.25,95.23 L467.5,95.26 L467.75,95.29 L468,95.32" fill="none" stroke="#ef7a58" stroke-width="0.9"/>
<path d="M458,87.91 L458.25,87.93 L458.5,87.94 L458.75,87.95 L459,87.96 L459.25,87.97 L459.5,87.97 L459.75,87.97 L460,87.97 L460.25,87.97 L460.5,87.96 L460.75,87.95 L461,87.93 L461.25,87.92 L461.5,87.89 L461.75,87.86 L462,87.83 L462.25,87.79 L462.5,87.74 L462.75,87.69 L463,87.63 L463.25,87.57 L463.5,87.5 L463.75,87.42 L464,87.34 L464.25,87.25 L464.5,87.15 L464.75,87.05 L465,86.94 L465.25,86.83 L465.5,86.72 L465.75,86.59 L466,86.47 L466.25,86.34 L466.5,86.22 L466.75,86.09 L467,85.96 L467.25,85.83 L467.5,85.7 L467.75,85.58 L468,85.45 L468.25,85.34 L468.5,85.23 L468.75,85.13 L469,85.03 L469.25,84.95 L469.5,84.87 L469.75,84.81 L470,84.76 L470.25,84.72 L470.5,84.69 L470.75,84.68 L471,84.68 L471.25,84.7 L471.5,84.72 L471.75,84.77 L472,84.83 L472.25,84.9 L472.5,84.98 L472.75,85.08 L473,85.19 L473.25,85.31 L473.5,85.44 L473.75,85.58 L474,85.73 L474.25,85.88 L474.5,86.05 L474.75,86.22 L475,86.39 L475.25,86.57 L475.5,86.74 L475.75,86.92 L476,87.1 L476.25,87.28 L476.5,87.46 L476.75,87.64 L477,87.81 L477.25,87.98 L477.5,88.14 L477.75,88.3 L478,88.45 L478.25,88.6 L478.5,88.74 L478.75,88.88 L479,89.01 L479.25,89.13 L479.5,89.25 L479.75,89.36 L480,89.46 L480.25,89.56 L480.5,89.65 L480.75,89.74 L481,89.82 L481.25,89.9 L481.5,89.97 L481.75,90.03 L482,90.1Z" fill="#f2a083" fill-opacity="0.55" stroke="none"/>
<path d="M458,87.91 L458.25,87.93 L458.5,87.94 L458.75,87.95 L459,87.96 L459.25,87.97 L459.5,87.97 L459.75,87.97 L460,87.97 L460.25,87.97 L460.5,87.96 L460.75,87.95 L461,87.93 L461.25,87.92 L461.5,87.89 L461.75,87.86 L462,87.83 L462.25,87.79 L462.5,87.74 L462.75,87.69 L463,87.63 L463.25,87.57 L463.5,87.5 L463.75,87.42 L464,87.34 L464.25,87.25 L464.5,87.15 L464.75,87.05 L465,86.94 L465.25,86.83 L465.5,86.72 L465.75,86.59 L466,86.47 L466.25,86.34 L466.5,86.22 L466.75,86.09 L467,85.96 L467.25,85.83 L467.5,85.7 L467.75,85.58 L468,85.45 L468.25,85.34 L468.5,85.23 L468.75,85.13 L469,85.03 L469.25,84.95 L469.5,84.87 L469.75,84.81 L470,84.76 L470.25,84.72 L470.5,84.69 L470.75,84.68 L471,84.68 L471.25,84.7 L471.5,84.72 L471.75,84.77 L472,84.83 L472.25,84.9 L472.5,84.98 L472.75,85.08 L473,85.19 L473.25,85.31 L473.5,85.44 L473.75,85.58 L474,85.73 L474.25,85.88 L474.5,86.05 L474.75,86.22 L475,86.39 L475.25,86.57 L475.5,86.74 L475.75,86.92 L476,87.1 L476.25,87.28 L476.5,87.46 L476.75,87.64 L477,87.81 L477.25,87.98 L477.5,88.14 L477.75,88.3 L478,88.45 L478.25,88.6 L478.5,88.74 L478.75,88.88 L479,89.01 L479.25,89.13 L479.5,89.25 L479.75,89.36 L480,89.46 L480.25,89.56 L480.5,89.65 L480.75,89.74 L481,89.82 L481.25,89.9 L481.5,89.97 L481.75,90.03 L482,90.1" fill="none" stroke="#ef7a58" stroke-width="0.9"/>
<path d="M411.5,85.5 Q432,90 452.5,87.5 T472,84" fill="none" stroke="#ef7a58" stroke-width="0.9" stroke-dasharray="2 1.2"/>
<path d="M384,55.2 L465.3,31.299999999999997 M384,55.2 L426.4,59.300000000000004" stroke="#333" stroke-width="0.8"/><path d="M468.3,30.4 L465.27,32.86 L464.42,29.98Z" fill="#333"/><path d="M429.4,59.6 L425.67,60.75 L425.96,57.76Z" fill="#333"/>
<path d="M384.1,106.6 L467.7,82.30000000000001 M384.1,106.6 L425.8,109.60000000000001" stroke="#333" stroke-width="0.8"/><path d="M470.7,81.4 L467.66,83.85 L466.82,80.97Z" fill="#333"/><path d="M428.8,109.9 L425.1,111.13 L425.32,108.14Z" fill="#333"/>
<text x="469.6" y="33.4" font-family="Liberation Sans" font-size="9.8" fill="#3a3030" font-weight="normal" font-style="italic" text-anchor="start" >T</text>
<text x="471.8" y="84.6" font-family="Liberation Sans" font-size="9.8" fill="#3a3030" font-weight="normal" font-style="italic" text-anchor="start" >T</text>
<text x="431.2" y="63.5" font-family="Liberation Serif" font-size="9.5" fill="#444" font-weight="normal" font-style="italic" text-anchor="start" >&#957;</text><line x1="431.8" y1="57.61" x2="435.95" y2="57.61" stroke="#444" stroke-width="0.67"/>
<text x="431.8" y="115.4" font-family="Liberation Serif" font-size="9.5" fill="#444" font-weight="normal" font-style="italic" text-anchor="start" >&#957;</text><line x1="432.4" y1="109.51" x2="436.55" y2="109.51" stroke="#444" stroke-width="0.67"/>
<path d="M430.1,129.7 L430.1,143" stroke="#ff2020" stroke-width="1.3"/><path d="M427.8,141.6 L430.1,147.5 L432.5,141.6Z" fill="#ff2020"/>
<text x="437.3" y="140.4" font-family="Liberation Sans" font-size="9.5" fill="#ff2020" font-weight="bold" font-style="normal" text-anchor="start" >model fit</text>
<text y="165.8" font-family="Liberation Sans" font-size="11" fill="#ff2020" stroke="#ff2020" stroke-width="0.35"><tspan x="393.6">&#916;</tspan><tspan x="400.2" font-family="Liberation Serif" font-style="italic" font-size="12.5">&#949;</tspan><tspan x="406.9" font-size="12.4">(</tspan><tspan x="410" font-family="Liberation Serif" font-style="italic" font-size="12">&#957;</tspan><tspan x="416.3" font-style="italic">,</tspan><tspan x="420.6" font-style="italic">T</tspan><tspan x="427.3" font-style="italic">,</tspan><tspan x="432.8" font-style="italic" font-size="12.4">{</tspan><tspan x="438.3" font-style="italic">X</tspan><tspan x="446.6" font-style="italic">,</tspan><tspan x="449.6" font-style="italic">Y</tspan><tspan x="457.7" font-style="italic" font-size="12.4">}</tspan><tspan x="462.2" font-size="12.4">)</tspan></text>
<path d="M401.4,156.4 Q402.6,155 404,156.1 T406.8,155.8" fill="none" stroke="#ff2020" stroke-width="0.75"/>
<line x1="411" y1="158.8" x2="416.6" y2="158.8" stroke="#ff2020" stroke-width="0.75"/>
<text x="204.9" y="194.4" font-family="Liberation Sans" font-size="15.5" fill="#000" font-weight="bold" font-style="normal" text-anchor="start" >d</text>
<path d="M268.4,319.9 L271.4,319.9 M268.4,305.3 L270.4,305.3 M268.4,290.7 L271.4,290.7 M268.4,276.1 L270.4,276.1 M268.4,261.5 L271.4,261.5 M268.4,246.9 L270.4,246.9 M268.4,232.3 L271.4,232.3 M268.4,217.7 L270.4,217.7 M268.4,203.1 L271.4,203.1 M280.04,335.6 L280.04,333.6 M291.9,335.6 L291.9,332.6 M303.76,335.6 L303.76,333.6 M315.62,335.6 L315.62,333.6 M327.49,335.6 L327.49,333.6 M339.35,335.6 L339.35,332.6 M351.21,335.6 L351.21,333.6 M363.07,335.6 L363.07,333.6 M374.94,335.6 L374.94,333.6 M386.8,335.6 L386.8,332.6 M398.66,335.6 L398.66,333.6 " stroke="#333" stroke-width="1"/>
<rect x="268.4" y="188.5" width="141.7" height="147.1" fill="none" stroke="#333" stroke-width="1.2"/>
<text x="265" y="207" font-family="Liberation Sans" font-size="11.6" fill="#111" font-weight="normal" font-style="normal" text-anchor="end" >0.04</text>
<text x="265" y="236.5" font-family="Liberation Sans" font-size="11.6" fill="#111" font-weight="normal" font-style="normal" text-anchor="end" >0.03</text>
<text x="265" y="265.8" font-family="Liberation Sans" font-size="11.6" fill="#111" font-weight="normal" font-style="normal" text-anchor="end" >0.02</text>
<text x="265" y="294.3" font-family="Liberation Sans" font-size="11.6" fill="#111" font-weight="normal" font-style="normal" text-anchor="end" >0.01</text>
<text x="265" y="322.4" font-family="Liberation Sans" font-size="11.6" fill="#111" font-weight="normal" font-style="normal" text-anchor="end" >0</text>
<text x="291.9" y="347.8" font-family="Liberation Sans" font-size="11.7" fill="#111" font-weight="normal" font-style="normal" text-anchor="middle" >1700</text>
<text x="339.35" y="347.8" font-family="Liberation Sans" font-size="11.7" fill="#111" font-weight="normal" font-style="normal" text-anchor="middle" >1720</text>
<text x="386.8" y="347.8" font-family="Liberation Sans" font-size="11.7" fill="#111" font-weight="normal" font-style="normal" text-anchor="middle" >1740</text>
<text x="322.2" y="363.8" font-family="Liberation Serif" font-size="14.5" fill="#222" font-weight="normal" font-style="italic" text-anchor="start" >&#957;</text><line x1="322.8" y1="354.81" x2="329.45" y2="354.81" stroke="#222" stroke-width="1.02"/><text x="333.2" y="363.4" font-family="Liberation Sans" font-size="11.5" fill="#222" font-weight="normal" font-style="normal" text-anchor="start" >(cm<tspan font-size="7.5" dy="-4">-1</tspan><tspan dy="4">)</tspan></text>
<text transform="translate(230.3,325.5) rotate(-90)" font-family="Liberation Sans" font-size="10.8" fill="#222" textLength="57" lengthAdjust="spacingAndGlyphs">Im[&#916;<tspan font-style="italic">E</tspan><tspan font-size="7.4">NF</tspan>(<tspan font-family="Liberation Serif" font-style="italic">&#957;&#773;</tspan>)]</text>
<text transform="translate(230.3,262.2) rotate(-90)" font-family="Liberation Sans" font-size="10.8" fill="#222" textLength="59" lengthAdjust="spacingAndGlyphs">(arb. units)</text>
<path d="M268.4,203.2 C270.83,203.62 278.2,204.83 283,205.7 C287.8,206.57 292.7,207.55 297.2,208.4 C301.7,209.25 306.87,210.17 310,210.8 C313.13,211.43 314.33,211.92 316,212.2 C317.67,212.48 318.67,212.53 320,212.5 C321.33,212.47 322.67,212.25 324,212 C325.33,211.75 326.63,211.25 328,211 C329.37,210.75 330.7,210.57 332.2,210.5 C333.7,210.43 335.53,210.52 337,210.6 C338.47,210.68 338,210.68 341,211 C344,211.32 350.5,212 355,212.5 C359.5,213 362.33,213.22 368,214 C373.67,214.78 382,216.13 389,217.2 C396,218.27 406.5,219.87 410,220.4" fill="none" stroke="#6e6ef2" stroke-width="1.3"/>
<ellipse cx="322" cy="211.3" rx="23.2" ry="9.7" fill="none" stroke="#f5a02a" stroke-width="1.5" stroke-dasharray="2.6 1.7"/>
<text x="307.9" y="199.7" font-family="Liberation Sans" font-size="11.8" fill="#f39a2a" font-weight="normal" font-style="normal" text-anchor="start" textLength="94" lengthAdjust="spacingAndGlyphs">Fano interference</text>
<text x="366.8" y="229.2" font-family="Liberation Sans" font-size="11.6" fill="#7a7af0">&#916;<tspan font-style="italic">E</tspan><tspan font-size="8">NF, car</tspan></text>
<text x="271.3" y="248.6" font-family="Liberation Sans" font-size="12" fill="#ff1a1a" font-weight="normal" font-style="normal" text-anchor="start" textLength="130.4" lengthAdjust="spacingAndGlyphs">Excited-state absorption</text>
<path d="M268.4,320.5 C270.73,320.75 278.47,321.37 282.4,322 C286.33,322.63 289.4,323.47 292,324.3 C294.6,325.13 296.17,326.12 298,327 C299.83,327.88 301.3,328.9 303,329.6 C304.7,330.3 306.67,331.13 308.2,331.2 C309.73,331.27 311,330.82 312.2,330 C313.4,329.18 314.3,328.05 315.4,326.3 C316.5,324.55 317.6,321.88 318.8,319.5 C320,317.12 321.4,314.92 322.6,312 C323.8,309.08 324.8,305.63 326,302 C327.2,298.37 328.55,294.28 329.8,290.2 C331.05,286.12 332.22,281.62 333.5,277.5 C334.78,273.38 336.38,268.48 337.5,265.5 C338.62,262.52 339.35,260.82 340.2,259.6 C341.05,258.38 341.8,258.2 342.6,258.2 C343.4,258.2 344.1,258.5 345,259.6 C345.9,260.7 346.92,262.57 348,264.8 C349.08,267.03 350.33,270.2 351.5,273 C352.67,275.8 353.67,278.63 355,281.6 C356.33,284.57 357.95,288.07 359.5,290.8 C361.05,293.53 362.55,295.83 364.3,298 C366.05,300.17 368.07,302.17 370,303.8 C371.93,305.43 373.9,306.63 375.9,307.8 C377.9,308.97 379.67,309.83 382,310.8 C384.33,311.77 386.9,312.77 389.9,313.6 C392.9,314.43 396.65,315.18 400,315.8 C403.35,316.42 408.33,317.05 410,317.3" fill="none" stroke="#1a1aff" stroke-width="2"/>
<ellipse cx="343.2" cy="287.2" rx="23.5" ry="33" fill="none" stroke="#ff2020" stroke-width="1.8" stroke-dasharray="3 2.1"/>
<text x="366" y="275.8" font-family="Liberation Sans" font-size="11.8" fill="#2222ff">&#916;<tspan font-style="italic">E</tspan><tspan font-size="8">NF, vib</tspan></text>
<text x="496.3" y="10.7" font-family="Liberation Sans" font-size="15.5" fill="#000" font-weight="bold" font-style="normal" text-anchor="start" >e</text>
<radialGradient id="glow" cx="0.5" cy="0.5" r="0.5"><stop offset="0" stop-color="#3a3aff" stop-opacity="0.95"/><stop offset="0.35" stop-color="#6a6aff" stop-opacity="0.6"/><stop offset="1" stop-color="#ffffff" stop-opacity="0"/></radialGradient>
<ellipse cx="617.5" cy="26.8" rx="16" ry="16" fill="url(#glow)"/>
<path d="M542.3,144.47 L544.3,144.47 M542.3,133.78 L544.3,133.78 M542.3,123.09 L544.3,123.09 M542.3,112.4 L545.8,112.4 M542.3,101.71 L544.3,101.71 M542.3,91.02 L544.3,91.02 M542.3,80.33 L544.3,80.33 M542.3,69.64 L544.3,69.64 M542.3,58.95 L545.8,58.95 M542.3,48.26 L544.3,48.26 M542.3,37.57 L544.3,37.57 M542.3,26.88 L544.3,26.88 M542.3,16.19 L544.3,16.19 M551.48,150.1 L551.48,148.1 M560.54,150.1 L560.54,148.1 M569.59,150.1 L569.59,148.1 M578.65,150.1 L578.65,148.1 M587.7,150.1 L587.7,146.6 M596.75,150.1 L596.75,148.1 M605.81,150.1 L605.81,148.1 M614.86,150.1 L614.86,148.1 M623.92,150.1 L623.92,148.1 M632.97,150.1 L632.97,146.6 M642.02,150.1 L642.02,148.1 M651.08,150.1 L651.08,148.1 M660.13,150.1 L660.13,148.1 M669.19,150.1 L669.19,148.1 " stroke="#333" stroke-width="1"/>
<rect x="542.3" y="5.5" width="135.2" height="144.6" fill="none" stroke="#333" stroke-width="1.2"/>
<text x="540.4" y="8.9" font-family="Liberation Sans" font-size="11.4" fill="#222" font-weight="normal" font-style="normal" text-anchor="end" >2</text>
<text x="539.8" y="62.7" font-family="Liberation Sans" font-size="11.4" fill="#222" font-weight="normal" font-style="normal" text-anchor="end" >1</text>
<text x="539.8" y="116.3" font-family="Liberation Sans" font-size="11.4" fill="#222" font-weight="normal" font-style="normal" text-anchor="end" >0</text>
<text x="543.7" y="162" font-family="Liberation Sans" font-size="11.6" fill="#222" font-weight="normal" font-style="normal" text-anchor="middle" >-10</text>
<text x="588.2" y="162.1" font-family="Liberation Sans" font-size="11.6" fill="#222" font-weight="normal" font-style="normal" text-anchor="middle" >0</text>
<text x="633.9" y="162.1" font-family="Liberation Sans" font-size="11.6" fill="#222" font-weight="normal" font-style="normal" text-anchor="middle" >10</text>
<text x="678.6" y="162.1" font-family="Liberation Sans" font-size="11.6" fill="#222" font-weight="normal" font-style="normal" text-anchor="middle" >20</text>
<text x="587.5" y="177.7" font-family="Liberation Sans" font-size="11.7" fill="#222"><tspan font-family="Liberation Serif">&#916;</tspan><tspan font-family="Liberation Serif" font-style="italic">&#957;</tspan> (cm<tspan font-size="7.2" dy="-4">-1</tspan><tspan dy="4">)</tspan></text>
<line x1="595.9" y1="170.6" x2="600.6" y2="170.6" stroke="#222" stroke-width="0.8"/>
<text transform="translate(517.1,133.7) rotate(-90)" font-family="Liberation Sans" font-size="10.3" fill="#222" textLength="68.4" lengthAdjust="spacingAndGlyphs">Im[&#916;<tspan font-style="italic">E</tspan><tspan font-size="7">NF, vib</tspan>(<tspan font-family="Liberation Serif" font-style="italic">&#957;&#773;</tspan>)]</text>
<text transform="translate(517.1,55.8) rotate(-90)" font-family="Liberation Sans" font-size="10.3" fill="#222" textLength="35.1" lengthAdjust="spacingAndGlyphs">(norm.)</text>
<line x1="587.7" y1="48" x2="587.7" y2="150.1" stroke="#555" stroke-width="1.1" stroke-dasharray="4 2.5"/>
<path d="M542.3,121.8 C542.92,121.97 544.58,122.57 546,122.8 C547.42,123.03 549.13,123.33 550.8,123.2 C552.47,123.07 554.3,122.78 556,122 C557.7,121.22 559.15,119.88 561,118.5 C562.85,117.12 564.93,115.78 567.1,113.7 C569.27,111.62 571.73,108.93 574,106 C576.27,103.07 578.42,99.57 580.7,96.1 C582.98,92.63 585.48,88.63 587.7,85.2 C589.92,81.77 591.97,78.43 594,75.5 C596.03,72.57 598.07,69.77 599.9,67.6 C601.73,65.43 603.32,63.83 605,62.5 C606.68,61.17 608.43,60.23 610,59.6 C611.57,58.97 612.9,58.75 614.4,58.7 C615.9,58.65 617.4,58.75 619,59.3 C620.6,59.85 622.13,60.57 624,62 C625.87,63.43 628.37,65.98 630.2,67.9 C632.03,69.82 633.23,71.45 635,73.5 C636.77,75.55 638.8,78.12 640.8,80.2 C642.8,82.28 644.95,84.23 647,86 C649.05,87.77 651.1,89.47 653.1,90.8 C655.1,92.13 656.95,93.12 659,94 C661.05,94.88 663.4,95.67 665.4,96.1 C667.4,96.53 669.02,96.52 671,96.6 C672.98,96.68 676.25,96.6 677.3,96.6" fill="none" stroke="#1ee6f8" stroke-width="1.8"/>
<path d="M542.3,136.2 C542.75,136.43 544.03,137.28 545,137.6 C545.97,137.92 546.77,138.23 548.1,138.1 C549.43,137.97 551.35,137.48 553,136.8 C554.65,136.12 555.65,135.6 558,134 C560.35,132.4 564.43,129.7 567.1,127.2 C569.77,124.7 571.73,122.03 574,119 C576.27,115.97 578.42,112.6 580.7,109 C582.98,105.4 585.48,101.48 587.7,97.4 C589.92,93.32 591.97,88.78 594,84.5 C596.03,80.22 598.07,75.03 599.9,71.7 C601.73,68.37 603.15,66.45 605,64.5 C606.85,62.55 609.33,60.92 611,60 C612.67,59.08 613.57,59.22 615,59 C616.43,58.78 618.1,58.58 619.6,58.7 C621.1,58.82 622.43,59.08 624,59.7 C625.57,60.32 627.38,61.33 629,62.4 C630.62,63.47 631.87,64.62 633.7,66.1 C635.53,67.58 637.65,69.38 640,71.3 C642.35,73.22 645.47,75.82 647.8,77.6 C650.13,79.38 651.65,80.68 654,82 C656.35,83.32 659.57,84.67 661.9,85.5 C664.23,86.33 665.43,86.62 668,87 C670.57,87.38 675.75,87.67 677.3,87.8" fill="none" stroke="#16a2ec" stroke-width="1.8"/>
<path d="M542.3,136.7 C542.92,137.07 544.72,138.3 546,138.9 C547.28,139.5 548.52,139.98 550,140.3 C551.48,140.62 553.23,140.95 554.9,140.8 C556.57,140.65 557.97,140.3 560,139.4 C562.03,138.5 564.77,137.22 567.1,135.4 C569.43,133.58 571.73,131.57 574,128.5 C576.27,125.43 578.42,121.05 580.7,117 C582.98,112.95 585.48,108.37 587.7,104.2 C589.92,100.03 591.97,95.62 594,92 C596.03,88.38 597.9,85.67 599.9,82.5 C601.9,79.33 603.98,75.83 606,73 C608.02,70.17 610,67.5 612,65.5 C614,63.5 616.33,62.03 618,61 C619.67,59.97 620.55,59.68 622,59.3 C623.45,58.92 625.03,58.67 626.7,58.7 C628.37,58.73 630.45,59.12 632,59.5 C633.55,59.88 634.53,60.33 636,61 C637.47,61.67 638.97,62.4 640.8,63.5 C642.63,64.6 644.95,65.98 647,67.6 C649.05,69.22 651.1,71.47 653.1,73.2 C655.1,74.93 656.95,76.38 659,78 C661.05,79.62 663.4,81.6 665.4,82.9 C667.4,84.2 669.02,84.98 671,85.8 C672.98,86.62 676.25,87.47 677.3,87.8" fill="none" stroke="#1212d8" stroke-width="1.8"/>
<line x1="603.9" y1="105.1" x2="631.1" y2="105.1" stroke="#1ee6f8" stroke-width="1.8"/>
<text x="637.5" y="107.7" font-family="Liberation Sans" font-size="11.3" fill="#333" font-weight="normal" font-style="normal" text-anchor="start" >spot 1</text>
<line x1="603.9" y1="119.7" x2="631.1" y2="119.7" stroke="#16a2ec" stroke-width="1.8"/>
<text x="637.5" y="122.3" font-family="Liberation Sans" font-size="11.3" fill="#333" font-weight="normal" font-style="normal" text-anchor="start" >spot 2</text>
<line x1="603.9" y1="134" x2="631.1" y2="134" stroke="#1212d8" stroke-width="1.8"/>
<text x="637.5" y="136.6" font-family="Liberation Sans" font-size="11.3" fill="#333" font-weight="normal" font-style="normal" text-anchor="start" >spot 3</text>
<linearGradient id="barr" x1="0" y1="0" x2="1" y2="0"><stop offset="0" stop-color="#2a7cf0" stop-opacity="0"/><stop offset="0.5" stop-color="#2a6cf0" stop-opacity="0.7"/><stop offset="1" stop-color="#1030e0"/></linearGradient>
<rect x="601" y="50.4" width="28.5" height="1.6" fill="url(#barr)"/><path d="M628.5,48.6 L633.2,51.2 L628.5,53.8Z" fill="#1030e0"/>
<radialGradient id="atomB" cx="0.35" cy="0.35" r="0.65"><stop offset="0" stop-color="#8fb4dc"/><stop offset="0.45" stop-color="#2f6fb0"/><stop offset="1" stop-color="#1d4c82"/></radialGradient>
<radialGradient id="atomK" cx="0.35" cy="0.35" r="0.65"><stop offset="0" stop-color="#777"/><stop offset="0.4" stop-color="#111"/><stop offset="1" stop-color="#000"/></radialGradient>
<radialGradient id="atomH" cx="0.4" cy="0.4" r="0.6"><stop offset="0" stop-color="#f4f4f4"/><stop offset="1" stop-color="#9a9a9a"/></radialGradient>
<line x1="571.8" y1="27" x2="578.8" y2="17.8" stroke="#999" stroke-width="1"/><line x1="571.8" y1="27" x2="580.4" y2="37.6" stroke="#999" stroke-width="1"/><line x1="571.8" y1="27" x2="562.9" y2="27" stroke="#999" stroke-width="1"/><line x1="578.8" y1="17.8" x2="576.3" y2="9.4" stroke="#999" stroke-width="1"/><line x1="578.8" y1="17.8" x2="587.8" y2="17.3" stroke="#999" stroke-width="1"/><line x1="580.4" y1="37.6" x2="587.3" y2="37" stroke="#999" stroke-width="1"/><line x1="580.4" y1="37.6" x2="575.5" y2="44.2" stroke="#999" stroke-width="1"/><circle cx="576.3" cy="9.4" r="2.1" fill="url(#atomH)"/><circle cx="587.8" cy="17.3" r="2.1" fill="url(#atomH)"/><circle cx="562.9" cy="27" r="2.1" fill="url(#atomH)"/><circle cx="587.3" cy="37" r="2.1" fill="url(#atomH)"/><circle cx="575.5" cy="44.2" r="2.1" fill="url(#atomH)"/><circle cx="578.8" cy="17.8" r="3.7" fill="url(#atomB)"/><circle cx="580.4" cy="37.6" r="3.7" fill="url(#atomB)"/><circle cx="571.8" cy="27" r="3.8" fill="url(#atomK)"/>
<line x1="662.8" y1="26.7" x2="656.1" y2="17.2" stroke="#999" stroke-width="1"/><line x1="662.8" y1="26.7" x2="654.6" y2="37.6" stroke="#999" stroke-width="1"/><line x1="662.8" y1="26.7" x2="672" y2="26.3" stroke="#999" stroke-width="1"/><line x1="656.1" y1="17.2" x2="658.5" y2="8.8" stroke="#999" stroke-width="1"/><line x1="656.1" y1="17.2" x2="646.4" y2="17.2" stroke="#999" stroke-width="1"/><line x1="654.6" y1="37.6" x2="647" y2="37" stroke="#999" stroke-width="1"/><line x1="654.6" y1="37.6" x2="659.5" y2="44.2" stroke="#999" stroke-width="1"/><circle cx="658.5" cy="8.8" r="2.1" fill="url(#atomH)"/><circle cx="646.4" cy="17.2" r="2.1" fill="url(#atomH)"/><circle cx="672" cy="26.3" r="2.1" fill="url(#atomH)"/><circle cx="647" cy="37" r="2.1" fill="url(#atomH)"/><circle cx="659.5" cy="44.2" r="2.1" fill="url(#atomH)"/><circle cx="656.1" cy="17.2" r="3.7" fill="url(#atomB)"/><circle cx="654.6" cy="37.6" r="3.7" fill="url(#atomB)"/><circle cx="662.8" cy="26.7" r="3.8" fill="url(#atomK)"/>
<line x1="584.6" y1="23.2" x2="584.6" y2="30.299999999999997" stroke="#12e4f2" stroke-width="1.6"/><path d="M582.3000000000001,24.0 L584.6,20.2 L586.9,24.0Z M582.3000000000001,29.499999999999996 L584.6,33.3 L586.9,29.499999999999996Z" fill="#12e4f2"/>
<line x1="650.2" y1="23.6" x2="650.2" y2="29.799999999999997" stroke="#0808f0" stroke-width="1.6"/><path d="M647.9000000000001,24.400000000000002 L650.2,20.6 L652.5,24.400000000000002Z M647.9000000000001,28.999999999999996 L650.2,32.8 L652.5,28.999999999999996Z" fill="#0808f0"/>
<ellipse cx="602.5" cy="26.1" rx="8.3" ry="5.3" fill="none" stroke="#f02020" stroke-width="1" stroke-dasharray="1.4 1.1"/><circle cx="595.2" cy="23.6" r="0.9" fill="#f02020"/><circle cx="609.8" cy="28.8" r="0.9" fill="#f02020"/>
<path d="M640.5,25.5 C639,19.5 627.5,19 624.8,24" fill="none" stroke="#f02020" stroke-width="1.8"/><path d="M623.3,21.8 L624.3,26.4 L627.9,23.6Z" fill="#f02020"/>
<path d="M624.5,27.8 C626.5,33.5 637.5,33.5 640,29" fill="none" stroke="#f02020" stroke-width="1.8"/><path d="M641.7,31.2 L640.5,26.6 L636.9,29.4Z" fill="#f02020"/>
<text x="456.1" y="194" font-family="Liberation Sans" font-size="16" fill="#000" font-weight="bold" font-style="normal" text-anchor="start" >f</text>
<clipPath id="fclip"><rect x="492.6" y="188.6" width="179.2" height="144.6"/></clipPath>
<g clip-path="url(#fclip)"><path d="M493.6,314 L494.09,313.67 L494.58,313.11 L495.08,312.46 L495.57,311.88 L496.06,311.49 L496.55,311.4 L497.05,311.61 L497.54,312.05 L498.03,312.59 L498.52,313.1 L499.01,313.49 L499.51,313.73 L500,313.81 L500.49,313.73 L500.98,313.51 L501.48,313.19 L501.97,312.85 L502.46,312.59 L502.95,312.5 L503.44,312.64 L503.94,312.97 L504.43,313.4 L504.92,313.83 L505.41,314.19 L505.91,314.45 L506.4,314.64 L506.89,314.77 L507.38,314.89 L507.87,315.02 L508.37,315.16 L508.86,315.31 L509.35,315.45 L509.84,315.54 L510.34,315.57 L510.83,315.54 L511.32,315.47 L511.81,315.39 L512.3,315.29 L512.8,315.19 L513.29,315.09 L513.78,314.97 L514.27,314.84 L514.77,314.71 L515.26,314.63 L515.75,314.6 L516.24,314.64 L516.73,314.76 L517.23,314.93 L517.72,315.14 L518.21,315.35 L518.7,315.54 L519.2,315.7 L519.69,315.83 L520.18,315.92 L520.67,316 L521.16,316.06 L521.66,316.11 L522.15,316.16 L522.64,316.2 L523.13,316.25 L523.63,316.29 L524.12,316.34 L524.61,316.39 L525.1,316.45 L525.59,316.52 L526.09,316.59 L526.58,316.68 L527.07,316.78 L527.56,316.89 L528.06,317 L528.55,317.11 L529.04,317.21 L529.53,317.29 L530.02,317.34 L530.52,317.37 L531.01,317.37 L531.5,317.36 L531.99,317.33 L532.49,317.31 L532.98,317.28 L533.47,317.27 L533.96,317.27 L534.45,317.28 L534.95,317.29 L535.44,317.32 L535.93,317.35 L536.42,317.39 L536.92,317.43 L537.41,317.47 L537.9,317.51 L538.39,317.55 L538.88,317.59 L539.38,317.63 L539.87,317.67 L540.36,317.71 L540.85,317.75 L541.35,317.79 L541.84,317.83 L542.33,317.87 L542.82,317.91 L543.31,317.95 L543.81,317.99 L544.3,318.03 L544.79,318.07 L545.28,318.11 L545.78,318.15 L546.27,318.19 L546.76,318.23 L547.25,318.27 L547.74,318.31 L548.24,318.35 L548.73,318.39 L549.22,318.43 L549.71,318.47 L550.21,318.51 L550.7,318.54 L551.19,318.58 L551.68,318.62 L552.17,318.65 L552.67,318.69 L553.16,318.72 L553.65,318.75 L554.14,318.77 L554.64,318.79 L555.13,318.8 L555.62,318.81 L556.11,318.81 L556.6,318.81 L557.1,318.81 L557.59,318.8 L558.08,318.8 L558.57,318.81 L559.07,318.82 L559.56,318.84 L560.05,318.87 L560.54,318.91 L561.03,318.97 L561.53,319.04 L562.02,319.11 L562.51,319.19 L563,319.27 L563.5,319.34 L563.99,319.42 L564.48,319.49 L564.97,319.55 L565.46,319.61 L565.96,319.67 L566.45,319.72 L566.94,319.77 L567.43,319.81 L567.93,319.85 L568.42,319.89 L568.91,319.93 L569.4,319.96 L569.89,320 L570.39,320.04 L570.88,320.07 L571.37,320.11 L571.86,320.14 L572.36,320.18 L572.85,320.21 L573.34,320.25 L573.83,320.28 L574.32,320.32 L574.82,320.35 L575.31,320.39 L575.8,320.42 L576.29,320.46 L576.79,320.49 L577.28,320.53 L577.77,320.56 L578.26,320.6 L578.75,320.63 L579.25,320.67 L579.74,320.7 L580.23,320.73 L580.72,320.77 L581.22,320.8 L581.71,320.84 L582.2,320.88 L582.69,320.92 L583.18,320.96 L583.68,321 L584.17,321.05 L584.66,321.1 L585.15,321.16 L585.65,321.22 L586.14,321.29 L586.63,321.37 L587.12,321.44 L587.61,321.51 L588.11,321.59 L588.6,321.65 L589.09,321.71 L589.58,321.76 L590.08,321.8 L590.57,321.82 L591.06,321.84 L591.55,321.84 L592.04,321.83 L592.54,321.83 L593.03,321.82 L593.52,321.81 L594.01,321.8 L594.51,321.8 L595,321.8 L595.49,321.81 L595.98,321.82 L596.47,321.84 L596.97,321.86 L597.46,321.89 L597.95,321.91 L598.44,321.94 L598.94,321.97 L599.43,322 L599.92,322.03 L600.41,322.06 L600.9,322.09 L601.4,322.12 L601.89,322.15 L602.38,322.18 L602.87,322.21 L603.37,322.24 L603.86,322.27 L604.35,322.3 L604.84,322.34 L605.33,322.37 L605.83,322.4 L606.32,322.44 L606.81,322.48 L607.3,322.53 L607.8,322.58 L608.29,322.65 L608.78,322.73 L609.27,322.82 L609.76,322.92 L610.26,323.02 L610.75,323.11 L611.24,323.19 L611.73,323.24 L612.23,323.27 L612.72,323.28 L613.21,323.26 L613.7,323.22 L614.19,323.18 L614.69,323.14 L615.18,323.11 L615.67,323.09 L616.16,323.08 L616.66,323.08 L617.15,323.09 L617.64,323.1 L618.13,323.12 L618.62,323.15 L619.12,323.17 L619.61,323.2 L620.1,323.23 L620.59,323.25 L621.09,323.28 L621.58,323.31 L622.07,323.33 L622.56,323.36 L623.05,323.39 L623.55,323.41 L624.04,323.43 L624.53,323.44 L625.02,323.45 L625.52,323.44 L626.01,323.41 L626.5,323.37 L626.99,323.31 L627.48,323.23 L627.98,323.15 L628.47,323.07 L628.96,323 L629.45,322.96 L629.95,322.96 L630.44,323 L630.93,323.08 L631.42,323.2 L631.91,323.33 L632.41,323.47 L632.9,323.6 L633.39,323.72 L633.88,323.81 L634.38,323.89 L634.87,323.96 L635.36,324.01 L635.85,324.06 L636.34,324.11 L636.84,324.18 L637.33,324.27 L637.82,324.41 L638.31,324.58 L638.81,324.77 L639.3,324.94 L639.79,325.05 L640.28,325.07 L640.77,325 L641.27,324.87 L641.76,324.71 L642.25,324.57 L642.74,324.44 L643.24,324.3 L643.73,324.12 L644.22,323.9 L644.71,323.64 L645.2,323.42 L645.7,323.28 L646.19,323.28 L646.68,323.44 L647.17,323.7 L647.67,324 L648.16,324.28 L648.65,324.51 L649.14,324.7 L649.63,324.88 L650.13,325.07 L650.62,325.27 L651.11,325.45 L651.6,325.59 L652.1,325.64 L652.59,325.6 L653.08,325.48 L653.57,325.33 L654.06,325.18 L654.56,325.03 L655.05,324.88 L655.54,324.7 L656.03,324.46 L656.53,324.17 L657.02,323.89 L657.51,323.67 L658,323.61 L658.49,323.72 L658.99,323.97 L659.48,324.31 L659.97,324.64 L660.46,324.94 L660.96,325.19 L661.45,325.43 L661.94,325.69 L662.43,325.99 L662.92,326.28 L663.42,326.53 L663.91,326.65 L664.4,326.62 L664.89,326.45 L665.39,326.19 L665.88,325.9 L666.37,325.63 L666.86,325.39 L667.35,325.17 L667.85,324.97 L668.34,324.83 L668.83,324.76 L669.32,324.8 L669.82,324.92 L670.31,325.09 L670.8,325.28" fill="none" stroke="#6f6ff0" stroke-width="3.6" stroke-opacity="0.85" stroke-linejoin="round"/><path d="M492.6,313.4 L497.08,313.84 L501.56,314.27 L506.04,314.69 L510.52,315.11 L515,315.52 L519.48,315.92 L523.96,316.32 L528.44,316.71 L532.92,317.09 L537.4,317.47 L541.88,317.84 L546.36,318.2 L550.84,318.56 L555.32,318.91 L559.8,319.25 L564.28,319.59 L568.76,319.92 L573.24,320.24 L577.72,320.56 L582.2,320.87 L586.68,321.17 L591.16,321.47 L595.64,321.76 L600.12,322.04 L604.6,322.32 L609.08,322.59 L613.56,322.85 L618.04,323.11 L622.52,323.36 L627,323.6 L631.48,323.84 L635.96,324.07 L640.44,324.29 L644.92,324.51 L649.4,324.72 L653.88,324.92 L658.36,325.12 L662.84,325.31 L667.32,325.49 L671.8,325.67" fill="none" stroke="#1a1aff" stroke-width="1.15"/><path d="M493.6,299.76 L494.09,299.56 L494.58,299.11 L495.08,298.54 L495.57,297.95 L496.06,297.45 L496.55,297.14 L497.05,297.1 L497.54,297.37 L498.03,297.87 L498.52,298.47 L499.01,299.03 L499.51,299.43 L500,299.63 L500.49,299.58 L500.98,299.32 L501.48,298.89 L501.97,298.42 L502.46,298.06 L502.95,297.97 L503.44,298.2 L503.94,298.71 L504.43,299.38 L504.92,300.05 L505.41,300.63 L505.91,301.08 L506.4,301.43 L506.89,301.72 L507.38,302 L507.87,302.29 L508.37,302.59 L508.86,302.88 L509.35,303.12 L509.84,303.28 L510.34,303.36 L510.83,303.35 L511.32,303.27 L511.81,303.16 L512.3,303.05 L512.8,302.97 L513.29,302.91 L513.78,302.88 L514.27,302.88 L514.77,302.89 L515.26,302.9 L515.75,302.92 L516.24,302.93 L516.73,302.96 L517.23,303 L517.72,303.06 L518.21,303.15 L518.7,303.27 L519.2,303.4 L519.69,303.55 L520.18,303.71 L520.67,303.87 L521.16,304.02 L521.66,304.16 L522.15,304.29 L522.64,304.41 L523.13,304.51 L523.63,304.62 L524.12,304.72 L524.61,304.82 L525.1,304.92 L525.59,305.03 L526.09,305.15 L526.58,305.29 L527.07,305.43 L527.56,305.58 L528.06,305.74 L528.55,305.89 L529.04,306.03 L529.53,306.15 L530.02,306.25 L530.52,306.32 L531.01,306.37 L531.5,306.4 L531.99,306.41 L532.49,306.43 L532.98,306.45 L533.47,306.48 L533.96,306.52 L534.45,306.57 L534.95,306.63 L535.44,306.7 L535.93,306.77 L536.42,306.85 L536.92,306.93 L537.41,307.01 L537.9,307.09 L538.39,307.17 L538.88,307.25 L539.38,307.32 L539.87,307.39 L540.36,307.45 L540.85,307.51 L541.35,307.55 L541.84,307.58 L542.33,307.6 L542.82,307.61 L543.31,307.62 L543.81,307.64 L544.3,307.67 L544.79,307.73 L545.28,307.81 L545.78,307.91 L546.27,308.04 L546.76,308.19 L547.25,308.33 L547.74,308.48 L548.24,308.62 L548.73,308.75 L549.22,308.86 L549.71,308.97 L550.21,309.06 L550.7,309.15 L551.19,309.23 L551.68,309.31 L552.17,309.39 L552.67,309.47 L553.16,309.55 L553.65,309.62 L554.14,309.7 L554.64,309.77 L555.13,309.85 L555.62,309.92 L556.11,310 L556.6,310.07 L557.1,310.15 L557.59,310.22 L558.08,310.3 L558.57,310.37 L559.07,310.44 L559.56,310.52 L560.05,310.59 L560.54,310.67 L561.03,310.74 L561.53,310.81 L562.02,310.88 L562.51,310.96 L563,311.03 L563.5,311.1 L563.99,311.17 L564.48,311.25 L564.97,311.32 L565.46,311.39 L565.96,311.46 L566.45,311.54 L566.94,311.61 L567.43,311.69 L567.93,311.78 L568.42,311.86 L568.91,311.96 L569.4,312.06 L569.89,312.18 L570.39,312.3 L570.88,312.44 L571.37,312.58 L571.86,312.73 L572.36,312.88 L572.85,313.03 L573.34,313.18 L573.83,313.3 L574.32,313.42 L574.82,313.5 L575.31,313.57 L575.8,313.61 L576.29,313.63 L576.79,313.63 L577.28,313.62 L577.77,313.6 L578.26,313.58 L578.75,313.57 L579.25,313.56 L579.74,313.57 L580.23,313.58 L580.72,313.6 L581.22,313.64 L581.71,313.68 L582.2,313.73 L582.69,313.78 L583.18,313.84 L583.68,313.9 L584.17,313.96 L584.66,314.02 L585.15,314.08 L585.65,314.14 L586.14,314.21 L586.63,314.27 L587.12,314.33 L587.61,314.39 L588.11,314.46 L588.6,314.52 L589.09,314.58 L589.58,314.64 L590.08,314.7 L590.57,314.76 L591.06,314.83 L591.55,314.89 L592.04,314.95 L592.54,315.01 L593.03,315.07 L593.52,315.12 L594.01,315.18 L594.51,315.23 L595,315.28 L595.49,315.32 L595.98,315.34 L596.47,315.36 L596.97,315.36 L597.46,315.36 L597.95,315.35 L598.44,315.34 L598.94,315.34 L599.43,315.35 L599.92,315.39 L600.41,315.46 L600.9,315.55 L601.4,315.66 L601.89,315.79 L602.38,315.91 L602.87,316.03 L603.37,316.15 L603.86,316.25 L604.35,316.34 L604.84,316.42 L605.33,316.49 L605.83,316.56 L606.32,316.62 L606.81,316.68 L607.3,316.73 L607.8,316.79 L608.29,316.85 L608.78,316.91 L609.27,316.97 L609.76,317.04 L610.26,317.12 L610.75,317.22 L611.24,317.33 L611.73,317.46 L612.23,317.61 L612.72,317.77 L613.21,317.93 L613.7,318.09 L614.19,318.22 L614.69,318.32 L615.18,318.38 L615.67,318.39 L616.16,318.37 L616.66,318.33 L617.15,318.27 L617.64,318.21 L618.13,318.16 L618.62,318.12 L619.12,318.11 L619.61,318.11 L620.1,318.13 L620.59,318.16 L621.09,318.19 L621.58,318.23 L622.07,318.27 L622.56,318.3 L623.05,318.33 L623.55,318.34 L624.04,318.34 L624.53,318.31 L625.02,318.27 L625.52,318.22 L626.01,318.15 L626.5,318.09 L626.99,318.05 L627.48,318.03 L627.98,318.05 L628.47,318.12 L628.96,318.22 L629.45,318.36 L629.95,318.51 L630.44,318.67 L630.93,318.82 L631.42,318.96 L631.91,319.07 L632.41,319.17 L632.9,319.25 L633.39,319.32 L633.88,319.38 L634.38,319.43 L634.87,319.48 L635.36,319.52 L635.85,319.57 L636.34,319.61 L636.84,319.66 L637.33,319.7 L637.82,319.75 L638.31,319.81 L638.81,319.87 L639.3,319.96 L639.79,320.06 L640.28,320.2 L640.77,320.35 L641.27,320.53 L641.76,320.7 L642.25,320.85 L642.74,320.95 L643.24,320.99 L643.73,320.97 L644.22,320.91 L644.71,320.81 L645.2,320.72 L645.7,320.63 L646.19,320.56 L646.68,320.49 L647.17,320.41 L647.67,320.28 L648.16,320.06 L648.65,319.72 L649.14,319.23 L649.63,318.61 L650.13,317.89 L650.62,317.16 L651.11,316.55 L651.6,316.16 L652.1,316.1 L652.59,316.37 L653.08,316.92 L653.57,317.67 L654.06,318.48 L654.56,319.25 L655.05,319.91 L655.54,320.42 L656.03,320.81 L656.53,321.1 L657.02,321.32 L657.51,321.53 L658,321.72 L658.49,321.9 L658.99,322.06 L659.48,322.18 L659.97,322.25 L660.46,322.26 L660.96,322.21 L661.45,322.12 L661.94,322.02 L662.43,321.93 L662.92,321.85 L663.42,321.8 L663.91,321.77 L664.4,321.74 L664.89,321.71 L665.39,321.64 L665.88,321.52 L666.37,321.36 L666.86,321.18 L667.35,321.03 L667.85,320.97 L668.34,321.02 L668.83,321.19 L669.32,321.41 L669.82,321.65 L670.31,321.85 L670.8,322" fill="none" stroke="#74e074" stroke-width="3.6" stroke-opacity="0.85" stroke-linejoin="round"/><path d="M492.6,298.7 L497.08,299.6 L501.56,300.49 L506.04,301.36 L510.52,302.22 L515,303.06 L519.48,303.88 L523.96,304.69 L528.44,305.48 L532.92,306.25 L537.4,307.01 L541.88,307.75 L546.36,308.48 L550.84,309.19 L555.32,309.88 L559.8,310.55 L564.28,311.22 L568.76,311.86 L573.24,312.49 L577.72,313.1 L582.2,313.7 L586.68,314.28 L591.16,314.84 L595.64,315.39 L600.12,315.92 L604.6,316.43 L609.08,316.93 L613.56,317.41 L618.04,317.88 L622.52,318.33 L627,318.76 L631.48,319.18 L635.96,319.58 L640.44,319.96 L644.92,320.33 L649.4,320.69 L653.88,321.02 L658.36,321.34 L662.84,321.65 L667.32,321.93 L671.8,322.2" fill="none" stroke="#1fcc1f" stroke-width="1.15"/><path d="M493.6,277.39 L494.09,277.91 L494.58,278.15 L495.08,278.09 L495.57,277.79 L496.06,277.4 L496.55,277.03 L497.05,276.78 L497.54,276.66 L498.03,276.64 L498.52,276.68 L499.01,276.71 L499.51,276.69 L500,276.55 L500.49,276.27 L500.98,275.84 L501.48,275.31 L501.97,274.78 L502.46,274.42 L502.95,274.35 L503.44,274.63 L503.94,275.22 L504.43,275.99 L504.92,276.79 L505.41,277.49 L505.91,278.01 L506.4,278.32 L506.89,278.44 L507.38,278.4 L507.87,278.24 L508.37,278.03 L508.86,277.82 L509.35,277.69 L509.84,277.7 L510.34,277.86 L510.83,278.19 L511.32,278.63 L511.81,279.13 L512.3,279.63 L512.8,280.08 L513.29,280.45 L513.78,280.76 L514.27,281.01 L514.77,281.21 L515.26,281.4 L515.75,281.57 L516.24,281.75 L516.73,281.94 L517.23,282.13 L517.72,282.33 L518.21,282.54 L518.7,282.74 L519.2,282.92 L519.69,283.08 L520.18,283.22 L520.67,283.33 L521.16,283.42 L521.66,283.49 L522.15,283.55 L522.64,283.62 L523.13,283.69 L523.63,283.77 L524.12,283.86 L524.61,283.97 L525.1,284.09 L525.59,284.23 L526.09,284.38 L526.58,284.55 L527.07,284.75 L527.56,284.97 L528.06,285.21 L528.55,285.47 L529.04,285.74 L529.53,286 L530.02,286.25 L530.52,286.45 L531.01,286.6 L531.5,286.71 L531.99,286.76 L532.49,286.77 L532.98,286.77 L533.47,286.76 L533.96,286.75 L534.45,286.77 L534.95,286.81 L535.44,286.87 L535.93,286.95 L536.42,287.05 L536.92,287.16 L537.41,287.28 L537.9,287.4 L538.39,287.52 L538.88,287.65 L539.38,287.77 L539.87,287.9 L540.36,288.02 L540.85,288.15 L541.35,288.27 L541.84,288.39 L542.33,288.5 L542.82,288.6 L543.31,288.69 L543.81,288.76 L544.3,288.81 L544.79,288.83 L545.28,288.83 L545.78,288.82 L546.27,288.8 L546.76,288.8 L547.25,288.83 L547.74,288.9 L548.24,289.02 L548.73,289.19 L549.22,289.41 L549.71,289.66 L550.21,289.92 L550.7,290.18 L551.19,290.42 L551.68,290.64 L552.17,290.84 L552.67,291.02 L553.16,291.18 L553.65,291.32 L554.14,291.46 L554.64,291.58 L555.13,291.71 L555.62,291.83 L556.11,291.95 L556.6,292.07 L557.1,292.19 L557.59,292.31 L558.08,292.42 L558.57,292.54 L559.07,292.65 L559.56,292.76 L560.05,292.86 L560.54,292.94 L561.03,293.01 L561.53,293.06 L562.02,293.09 L562.51,293.08 L563,293.05 L563.5,293 L563.99,292.93 L564.48,292.85 L564.97,292.79 L565.46,292.75 L565.96,292.76 L566.45,292.83 L566.94,292.96 L567.43,293.15 L567.93,293.39 L568.42,293.67 L568.91,293.97 L569.4,294.28 L569.89,294.57 L570.39,294.85 L570.88,295.1 L571.37,295.33 L571.86,295.53 L572.36,295.7 L572.85,295.85 L573.34,295.99 L573.83,296.12 L574.32,296.25 L574.82,296.37 L575.31,296.48 L575.8,296.6 L576.29,296.71 L576.79,296.82 L577.28,296.93 L577.77,297.05 L578.26,297.16 L578.75,297.27 L579.25,297.38 L579.74,297.49 L580.23,297.61 L580.72,297.72 L581.22,297.83 L581.71,297.95 L582.2,298.06 L582.69,298.18 L583.18,298.31 L583.68,298.44 L584.17,298.58 L584.66,298.73 L585.15,298.89 L585.65,299.06 L586.14,299.24 L586.63,299.42 L587.12,299.62 L587.61,299.81 L588.11,299.99 L588.6,300.17 L589.09,300.33 L589.58,300.47 L590.08,300.58 L590.57,300.68 L591.06,300.75 L591.55,300.79 L592.04,300.83 L592.54,300.85 L593.03,300.88 L593.52,300.9 L594.01,300.93 L594.51,300.97 L595,301.02 L595.49,301.08 L595.98,301.14 L596.47,301.22 L596.97,301.31 L597.46,301.4 L597.95,301.49 L598.44,301.59 L598.94,301.69 L599.43,301.79 L599.92,301.9 L600.41,302 L600.9,302.1 L601.4,302.2 L601.89,302.31 L602.38,302.41 L602.87,302.51 L603.37,302.62 L603.86,302.72 L604.35,302.82 L604.84,302.92 L605.33,303.03 L605.83,303.14 L606.32,303.26 L606.81,303.41 L607.3,303.58 L607.8,303.8 L608.29,304.1 L608.78,304.49 L609.27,305 L609.76,305.65 L610.26,306.41 L610.75,307.26 L611.24,308.13 L611.73,308.93 L612.23,309.57 L612.72,309.98 L613.21,310.1 L613.7,309.93 L614.19,309.52 L614.69,308.93 L615.18,308.26 L615.67,307.61 L616.16,307.02 L616.66,306.56 L617.15,306.22 L617.64,306.01 L618.13,305.9 L618.62,305.86 L619.12,305.87 L619.61,305.92 L620.1,305.98 L620.59,306.04 L621.09,306.1 L621.58,306.14 L622.07,306.18 L622.56,306.21 L623.05,306.24 L623.55,306.26 L624.04,306.3 L624.53,306.36 L625.02,306.44 L625.52,306.55 L626.01,306.68 L626.5,306.84 L626.99,307 L627.48,307.16 L627.98,307.32 L628.47,307.46 L628.96,307.59 L629.45,307.7 L629.95,307.79 L630.44,307.85 L630.93,307.89 L631.42,307.91 L631.91,307.9 L632.41,307.86 L632.9,307.82 L633.39,307.77 L633.88,307.74 L634.38,307.75 L634.87,307.8 L635.36,307.9 L635.85,308.05 L636.34,308.25 L636.84,308.48 L637.33,308.72 L637.82,308.96 L638.31,309.22 L638.81,309.49 L639.3,309.81 L639.79,310.19 L640.28,310.66 L640.77,311.2 L641.27,311.8 L641.76,312.38 L642.25,312.87 L642.74,313.19 L643.24,313.28 L643.73,313.14 L644.22,312.82 L644.71,312.38 L645.2,311.9 L645.7,311.43 L646.19,310.96 L646.68,310.47 L647.17,309.91 L647.67,309.19 L648.16,308.26 L648.65,307.1 L649.14,305.73 L649.63,304.2 L650.13,302.65 L650.62,301.23 L651.11,300.12 L651.6,299.46 L652.1,299.37 L652.59,299.86 L653.08,300.87 L653.57,302.29 L654.06,303.94 L654.56,305.65 L655.05,307.27 L655.54,308.67 L656.03,309.77 L656.53,310.56 L657.02,311.02 L657.51,311.2 L658,311.17 L658.49,311 L658.99,310.79 L659.48,310.66 L659.97,310.66 L660.46,310.84 L660.96,311.18 L661.45,311.64 L661.94,312.14 L662.43,312.62 L662.92,313.05 L663.42,313.4 L663.91,313.69 L664.4,313.95 L664.89,314.2 L665.39,314.46 L665.88,314.72 L666.37,314.95 L666.86,315.1 L667.35,315.16 L667.85,315.13 L668.34,315.05 L668.83,314.97 L669.32,314.91 L669.82,314.89 L670.31,314.91 L670.8,314.95" fill="none" stroke="#f6b487" stroke-width="3.6" stroke-opacity="0.85" stroke-linejoin="round"/><path d="M492.6,274.98 L497.08,276.28 L501.56,277.56 L506.04,278.82 L510.52,280.07 L515,281.31 L519.48,282.53 L523.96,283.74 L528.44,284.93 L532.92,286.1 L537.4,287.27 L541.88,288.41 L546.36,289.54 L550.84,290.66 L555.32,291.76 L559.8,292.84 L564.28,293.91 L568.76,294.97 L573.24,296.01 L577.72,297.04 L582.2,298.05 L586.68,299.04 L591.16,300.02 L595.64,300.99 L600.12,301.94 L604.6,302.87 L609.08,303.79 L613.56,304.7 L618.04,305.59 L622.52,306.46 L627,307.32 L631.48,308.17 L635.96,309 L640.44,309.81 L644.92,310.61 L649.4,311.39 L653.88,312.16 L658.36,312.92 L662.84,313.66 L667.32,314.38 L671.8,315.09" fill="none" stroke="#ee8a3c" stroke-width="1.15"/><path d="M493.6,242.43 L494.09,242.81 L494.58,243.33 L495.08,244 L495.57,244.7 L496.06,245.28 L496.55,245.57 L497.05,245.5 L497.54,245.15 L498.03,244.67 L498.52,244.18 L499.01,243.73 L499.51,243.28 L500,242.82 L500.49,242.4 L500.98,242.12 L501.48,242.1 L501.97,242.39 L502.46,242.94 L502.95,243.62 L503.44,244.3 L503.94,244.87 L504.43,245.31 L504.92,245.62 L505.41,245.86 L505.91,246.04 L506.4,246.21 L506.89,246.37 L507.38,246.52 L507.87,246.69 L508.37,246.87 L508.86,247.09 L509.35,247.37 L509.84,247.75 L510.34,248.25 L510.83,248.88 L511.32,249.59 L511.81,250.31 L512.3,250.93 L512.8,251.34 L513.29,251.46 L513.78,251.31 L514.27,250.96 L514.77,250.53 L515.26,250.12 L515.75,249.81 L516.24,249.62 L516.73,249.55 L517.23,249.57 L517.72,249.64 L518.21,249.74 L518.7,249.85 L519.2,249.97 L519.69,250.08 L520.18,250.18 L520.67,250.28 L521.16,250.36 L521.66,250.43 L522.15,250.49 L522.64,250.53 L523.13,250.56 L523.63,250.58 L524.12,250.57 L524.61,250.56 L525.1,250.53 L525.59,250.48 L526.09,250.43 L526.58,250.37 L527.07,250.3 L527.56,250.24 L528.06,250.18 L528.55,250.13 L529.04,250.09 L529.53,250.07 L530.02,250.07 L530.52,250.1 L531.01,250.16 L531.5,250.26 L531.99,250.38 L532.49,250.54 L532.98,250.74 L533.47,250.96 L533.96,251.22 L534.45,251.51 L534.95,251.81 L535.44,252.14 L535.93,252.48 L536.42,252.83 L536.92,253.18 L537.41,253.53 L537.9,253.88 L538.39,254.23 L538.88,254.56 L539.38,254.88 L539.87,255.18 L540.36,255.47 L540.85,255.75 L541.35,256.01 L541.84,256.26 L542.33,256.49 L542.82,256.7 L543.31,256.91 L543.81,257.1 L544.3,257.29 L544.79,257.46 L545.28,257.63 L545.78,257.8 L546.27,257.96 L546.76,258.11 L547.25,258.26 L547.74,258.41 L548.24,258.56 L548.73,258.7 L549.22,258.84 L549.71,258.99 L550.21,259.13 L550.7,259.27 L551.19,259.41 L551.68,259.55 L552.17,259.69 L552.67,259.83 L553.16,259.97 L553.65,260.12 L554.14,260.27 L554.64,260.43 L555.13,260.61 L555.62,260.8 L556.11,261.02 L556.6,261.27 L557.1,261.54 L557.59,261.84 L558.08,262.14 L558.57,262.44 L559.07,262.71 L559.56,262.93 L560.05,263.09 L560.54,263.19 L561.03,263.22 L561.53,263.21 L562.02,263.16 L562.51,263.08 L563,263 L563.5,262.89 L563.99,262.76 L564.48,262.6 L564.97,262.4 L565.46,262.17 L565.96,261.92 L566.45,261.69 L566.94,261.51 L567.43,261.43 L567.93,261.48 L568.42,261.66 L568.91,261.97 L569.4,262.39 L569.89,262.87 L570.39,263.37 L570.88,263.85 L571.37,264.28 L571.86,264.65 L572.36,264.97 L572.85,265.23 L573.34,265.44 L573.83,265.63 L574.32,265.79 L574.82,265.94 L575.31,266.08 L575.8,266.22 L576.29,266.35 L576.79,266.48 L577.28,266.62 L577.77,266.75 L578.26,266.88 L578.75,267.01 L579.25,267.15 L579.74,267.28 L580.23,267.41 L580.72,267.54 L581.22,267.67 L581.71,267.81 L582.2,267.94 L582.69,268.07 L583.18,268.2 L583.68,268.33 L584.17,268.46 L584.66,268.59 L585.15,268.72 L585.65,268.85 L586.14,268.98 L586.63,269.11 L587.12,269.24 L587.61,269.37 L588.11,269.5 L588.6,269.64 L589.09,269.77 L589.58,269.9 L590.08,270.03 L590.57,270.16 L591.06,270.3 L591.55,270.44 L592.04,270.59 L592.54,270.75 L593.03,270.92 L593.52,271.11 L594.01,271.32 L594.51,271.56 L595,271.83 L595.49,272.14 L595.98,272.48 L596.47,272.84 L596.97,273.23 L597.46,273.62 L597.95,274 L598.44,274.35 L598.94,274.66 L599.43,274.91 L599.92,275.08 L600.41,275.19 L600.9,275.21 L601.4,275.18 L601.89,275.09 L602.38,274.97 L602.87,274.84 L603.37,274.7 L603.86,274.59 L604.35,274.5 L604.84,274.45 L605.33,274.45 L605.83,274.5 L606.32,274.63 L606.81,274.85 L607.3,275.18 L607.8,275.67 L608.29,276.32 L608.78,277.14 L609.27,278.13 L609.76,279.24 L610.26,280.36 L610.75,281.4 L611.24,282.23 L611.73,282.74 L612.23,282.88 L612.72,282.64 L613.21,282.08 L613.7,281.31 L614.19,280.43 L614.69,279.56 L615.18,278.8 L615.67,278.19 L616.16,277.76 L616.66,277.48 L617.15,277.35 L617.64,277.34 L618.13,277.43 L618.62,277.62 L619.12,277.88 L619.61,278.19 L620.1,278.5 L620.59,278.77 L621.09,278.92 L621.58,278.97 L622.07,278.92 L622.56,278.83 L623.05,278.76 L623.55,278.73 L624.04,278.75 L624.53,278.82 L625.02,278.91 L625.52,279.02 L626.01,279.14 L626.5,279.25 L626.99,279.37 L627.48,279.49 L627.98,279.62 L628.47,279.74 L628.96,279.86 L629.45,279.99 L629.95,280.13 L630.44,280.28 L630.93,280.46 L631.42,280.66 L631.91,280.91 L632.41,281.21 L632.9,281.56 L633.39,281.96 L633.88,282.38 L634.38,282.8 L634.87,283.19 L635.36,283.5 L635.85,283.71 L636.34,283.8 L636.84,283.78 L637.33,283.67 L637.82,283.51 L638.31,283.31 L638.81,283.14 L639.3,283 L639.79,282.92 L640.28,282.92 L640.77,283.02 L641.27,283.27 L641.76,283.75 L642.25,284.56 L642.74,285.78 L643.24,287.44 L643.73,289.46 L644.22,291.57 L644.71,293.39 L645.2,294.54 L645.7,294.75 L646.19,293.99 L646.68,292.48 L647.17,290.57 L647.67,288.64 L648.16,286.95 L648.65,285.56 L649.14,284.42 L649.63,283.36 L650.13,282.21 L650.62,280.82 L651.11,279.1 L651.6,277.07 L652.1,274.81 L652.59,272.5 L653.08,270.36 L653.57,268.66 L654.06,267.62 L654.56,267.4 L655.05,268.04 L655.54,269.47 L656.03,271.52 L656.53,273.93 L657.02,276.45 L657.51,278.85 L658,280.94 L658.49,282.64 L658.99,283.9 L659.48,284.74 L659.97,285.23 L660.46,285.44 L660.96,285.47 L661.45,285.39 L661.94,285.29 L662.43,285.23 L662.92,285.28 L663.42,285.45 L663.91,285.73 L664.4,286.12 L664.89,286.56 L665.39,287.02 L665.88,287.46 L666.37,287.86 L666.86,288.2 L667.35,288.49 L667.85,288.72 L668.34,288.9 L668.83,289.06 L669.32,289.2 L669.82,289.32 L670.31,289.44 L670.8,289.55" fill="none" stroke="#ff8686" stroke-width="3.6" stroke-opacity="0.85" stroke-linejoin="round"/><path d="M492.6,241.94 L497.08,243.34 L501.56,244.73 L506.04,246.1 L510.52,247.47 L515,248.83 L519.48,250.18 L523.96,251.51 L528.44,252.84 L532.92,254.15 L537.4,255.46 L541.88,256.75 L546.36,258.04 L550.84,259.31 L555.32,260.57 L559.8,261.83 L564.28,263.07 L568.76,264.3 L573.24,265.52 L577.72,266.74 L582.2,267.94 L586.68,269.13 L591.16,270.31 L595.64,271.48 L600.12,272.64 L604.6,273.79 L609.08,274.93 L613.56,276.05 L618.04,277.17 L622.52,278.28 L627,279.38 L631.48,280.46 L635.96,281.54 L640.44,282.6 L644.92,283.66 L649.4,284.71 L653.88,285.74 L658.36,286.76 L662.84,287.78 L667.32,288.78 L671.8,289.78" fill="none" stroke="#ff1a1a" stroke-width="1.15"/></g>
<path d="M492.6,327.6 L496.1,327.6 M492.6,322.04 L494.6,322.04 M492.6,316.48 L494.6,316.48 M492.6,310.92 L494.6,310.92 M492.6,305.36 L494.6,305.36 M492.6,299.8 L496.1,299.8 M492.6,294.24 L494.6,294.24 M492.6,288.68 L494.6,288.68 M492.6,283.12 L494.6,283.12 M492.6,277.56 L494.6,277.56 M492.6,272 L496.1,272 M492.6,266.44 L494.6,266.44 M492.6,260.88 L494.6,260.88 M492.6,255.32 L494.6,255.32 M492.6,249.76 L494.6,249.76 M492.6,244.2 L496.1,244.2 M492.6,238.64 L494.6,238.64 M492.6,233.08 L494.6,233.08 M492.6,227.52 L494.6,227.52 M492.6,221.96 L494.6,221.96 M492.6,216.4 L496.1,216.4 M492.6,210.84 L494.6,210.84 M492.6,205.28 L494.6,205.28 M492.6,199.72 L494.6,199.72 M492.6,194.16 L494.6,194.16 M505.21,333.2 L505.21,331.2 M517.11,333.2 L517.11,331.2 M529,333.2 L529,329.7 M540.89,333.2 L540.89,331.2 M552.78,333.2 L552.78,331.2 M564.68,333.2 L564.68,331.2 M576.57,333.2 L576.57,329.7 M588.46,333.2 L588.46,331.2 M600.36,333.2 L600.36,331.2 M612.25,333.2 L612.25,331.2 M624.14,333.2 L624.14,329.7 M636.03,333.2 L636.03,331.2 M647.92,333.2 L647.92,331.2 M659.82,333.2 L659.82,331.2 " stroke="#111" stroke-width="1.1"/>
<text x="489" y="331.6" font-family="Liberation Sans" font-size="11.6" fill="#111" font-weight="normal" font-style="normal" text-anchor="end" >0</text>
<text x="489" y="303.8" font-family="Liberation Sans" font-size="11.6" fill="#111" font-weight="normal" font-style="normal" text-anchor="end" >1</text>
<text x="489" y="276" font-family="Liberation Sans" font-size="11.6" fill="#111" font-weight="normal" font-style="normal" text-anchor="end" >2</text>
<text x="489" y="248.2" font-family="Liberation Sans" font-size="11.6" fill="#111" font-weight="normal" font-style="normal" text-anchor="end" >3</text>
<text x="489" y="220.4" font-family="Liberation Sans" font-size="11.6" fill="#111" font-weight="normal" font-style="normal" text-anchor="end" >4</text>
<text x="489" y="192.6" font-family="Liberation Sans" font-size="11.6" fill="#111" font-weight="normal" font-style="normal" text-anchor="end" >5</text>
<text x="529" y="346.6" font-family="Liberation Sans" font-size="11.6" fill="#111" font-weight="normal" font-style="normal" text-anchor="middle" >1200</text>
<text x="576.57" y="346.6" font-family="Liberation Sans" font-size="11.6" fill="#111" font-weight="normal" font-style="normal" text-anchor="middle" >1400</text>
<text x="624.14" y="346.6" font-family="Liberation Sans" font-size="11.6" fill="#111" font-weight="normal" font-style="normal" text-anchor="middle" >1600</text>
<text x="671.71" y="346.6" font-family="Liberation Sans" font-size="11.6" fill="#111" font-weight="normal" font-style="normal" text-anchor="middle" >1800</text>
<text x="560.5" y="363.6" font-family="Liberation Serif" font-size="14.5" fill="#222" font-weight="normal" font-style="italic" text-anchor="start" >&#957;</text><line x1="561.1" y1="354.61" x2="567.75" y2="354.61" stroke="#222" stroke-width="1.02"/><text x="571.6" y="363.2" font-family="Liberation Sans" font-size="11.5" fill="#222" font-weight="normal" font-style="normal" text-anchor="start" >(cm<tspan font-size="7.5" dy="-4">-1</tspan><tspan dy="4">)</tspan></text>
<text transform="translate(467.6,323.7) rotate(-90)" font-family="Liberation Serif" font-size="12" fill="#222" textLength="48.8" lengthAdjust="spacingAndGlyphs">&#916;<tspan font-style="italic">A</tspan>(<tspan font-style="italic">T</tspan>, <tspan font-style="italic">&#957;&#773;</tspan> )</text>
<text transform="translate(467.4,269.5) rotate(-90)" font-family="Liberation Sans" font-size="10.8" fill="#222" textLength="57.3" lengthAdjust="spacingAndGlyphs">(arb. units)</text>
<text x="496.2" y="203.2" font-family="Liberation Sans" font-size="9.2" fill="#222"><tspan font-style="italic">n</tspan><tspan font-size="7" dy="2.6">0</tspan><tspan dy="-2.6"> = 1.7 &#215;10</tspan><tspan font-size="6" dy="-3.2">19</tspan><tspan dy="3.2"> cm</tspan><tspan font-size="6" dy="-3.2">-3</tspan></text>
<text x="506.6" y="239.5" font-family="Liberation Sans" font-size="10.1" fill="#ff1a1a"><tspan font-style="italic">T</tspan> = 2 ps</text>
<text x="521.3" y="276.6" font-family="Liberation Sans" font-size="10.5" fill="#ee8a3c" font-weight="normal" font-style="normal" text-anchor="start" >50 ps</text>
<text x="520.2" y="299.8" font-family="Liberation Sans" font-size="10.5" fill="#1fcc1f" font-weight="normal" font-style="normal" text-anchor="start" >250 ps</text>
<text x="521.6" y="326.8" font-family="Liberation Sans" font-size="10.5" fill="#1a1aff" font-weight="normal" font-style="normal" text-anchor="start" >750 ps</text>
<rect x="595.6" y="188.6" width="76.2" height="61.8" fill="#fff" stroke="#111" stroke-width="1.1"/>
<clipPath id="iclip"><rect x="595.6" y="188.6" width="76.2" height="61.8"/></clipPath>
<g clip-path="url(#iclip)"><path d="M595.6,212.3 L595.84,211.94 L596.08,211.58 L596.31,211.21 L596.55,210.85 L596.79,210.49 L597.02,210.12 L597.26,209.76 L597.5,209.4 L597.75,209.25 L598,209.1 L598.25,208.95 L598.5,208.8 L598.75,208.65 L599,208.5 L599.25,208.35 L599.5,208.2 L599.81,208.27 L600.12,208.35 L600.44,208.42 L600.75,208.5 L601.06,208.57 L601.38,208.64 L601.69,208.69 L602,208.71 L602.38,208.76 L602.75,208.69 L603.12,208.52 L603.5,208.34 L603.88,208.32 L604.25,208.56 L604.62,209.06 L605,209.65 L605.62,210.4 L606.25,210.83 L606.88,211.11 L607.5,211.35 L608.12,211.59 L608.75,211.83 L609.38,212.1 L610,212.44 L611.25,213.31 L612.5,213.79 L613.75,213.67 L615,213.86 L616.25,214.24 L617.5,214.63 L618.75,215.01 L620,215.4 L621.25,215.8 L622.5,216.25 L623.75,216.88 L625,217.78 L626.25,218.38 L627.5,218.37 L628.75,218.35 L630,218.62 L631.25,218.98 L632.5,219.22 L633.75,219.16 L635,219.25 L636.25,219.99 L637.5,220.87 L638.75,221.46 L640,221.9 L641.25,222.25 L642.5,222.6 L643.75,222.96 L645,223.38 L646.25,224.02 L647.5,224.75 L648.75,225.05 L650,224.99 L651.25,225.09 L652.5,225.38 L653.75,225.73 L655,226.3 L656.25,227.56 L657.5,228.07 L658.75,227.45 L660,227.41 L661.5,226.94 L663,221.96 L664.5,220.21 L666,226.94 L667.5,230.63 L669,230.35 L670.5,229.7 L672,230" fill="none" stroke="#ff8080" stroke-width="1"/><path d="M595.6,212.3 L595.84,211.94 L596.08,211.58 L596.31,211.22 L596.55,210.87 L596.79,210.54 L597.02,210.22 L597.26,209.95 L597.5,209.71 L597.75,209.76 L598,209.85 L598.25,209.96 L598.5,210.06 L598.75,210.09 L599,210 L599.25,209.79 L599.5,209.46 L599.81,209.22 L600.12,208.97 L600.44,208.78 L600.75,208.68 L601.06,208.65 L601.38,208.67 L601.69,208.71 L602,208.74 L602.38,208.84 L602.75,208.86 L603.12,208.81 L603.5,208.76 L603.88,208.81 L604.25,209.04 L604.62,209.44 L605,209.9 L605.62,210.64 L606.25,211.17 L606.88,211.6 L607.5,212 L608.12,212.4 L608.75,212.8 L609.38,213.2 L610,213.6 L611.25,214.2 L612.5,214.8 L613.75,215.4 L615,216 L616.25,216.6 L617.5,217.2 L618.75,217.8 L620,218.4 L621.25,219.01 L622.5,219.8 L623.75,220.94 L625,221.9 L626.25,222.09 L627.5,222.1 L628.75,222.46 L630,223 L631.25,223.58 L632.5,224.15 L633.75,224.73 L635,225.3 L636.25,225.9 L637.5,226.66 L638.75,227.7 L640,228.6 L641.25,228.69 L642.5,228.63 L643.75,228.87 L645,229.25 L646.25,229.71 L647.5,230.39 L648.75,231.5 L650,232.4 L651.25,232.25 L652.5,231.89 L653.75,231.98 L655,232.59 L656.25,234.15 L657.5,234.71 L658.75,233.78 L660,233.63 L661.5,233.73 L663,232.3 L664.5,231.85 L666,234.37 L667.5,235.7 L669,236.97 L670.5,236.34 L672,236.13" fill="none" stroke="#f5ac7e" stroke-width="1"/><path d="M595.6,211.79 L595.84,211.16 L596.08,210.47 L596.31,209.77 L596.55,209.11 L596.79,208.55 L597.02,208.13 L597.26,207.86 L597.5,207.72 L597.75,207.9 L598,208.11 L598.25,208.28 L598.5,208.41 L598.75,208.47 L599,208.5 L599.25,208.53 L599.5,208.59 L599.81,209.02 L600.12,209.52 L600.44,210.03 L600.75,210.41 L601.06,210.56 L601.38,210.44 L601.69,210.1 L602,209.64 L602.38,209.14 L602.75,208.59 L603.12,208.02 L603.5,207.52 L603.88,207.33 L604.25,207.61 L604.62,208.29 L605,209.15 L605.62,210.58 L606.25,211.48 L606.88,212.12 L607.5,212.7 L608.12,213.27 L608.75,213.85 L609.38,214.42 L610,215 L611.25,215.82 L612.5,216.65 L613.75,217.47 L615,218.3 L616.25,219.12 L617.5,219.95 L618.75,220.77 L620,221.6 L621.25,222.2 L622.5,222.74 L623.75,222.9 L625,223 L626.25,224.1 L627.5,225.14 L628.75,225.81 L630,226.65 L631.25,228.08 L632.5,228.77 L633.75,228.32 L635,228.48 L636.25,228.97 L637.5,229.63 L638.75,231.24 L640,233 L641.25,232.14 L642.5,231.4 L643.75,230.82 L645,229.55 L646.25,231.59 L647.5,232.83 L648.75,234.06 L650,236.1 L651.25,234.78 L652.5,234.31 L653.75,234.54 L655,233.7 L656.25,232.89 L657.5,235.1 L658.75,235.99 L660,237.05 L661.5,237.87 L663,236.93 L664.5,235.98 L666,236.8 L667.5,238.16 L669,239.67 L670.5,238.8 L672,238.8" fill="none" stroke="#55d855" stroke-width="1"/><path d="M595.6,211.63 L595.84,210.97 L596.08,210.32 L596.31,209.75 L596.55,209.32 L596.79,209.04 L597.02,208.84 L597.26,208.63 L597.5,208.31 L597.75,208.01 L598,207.47 L598.25,206.74 L598.5,205.93 L598.75,205.17 L599,204.61 L599.25,204.36 L599.5,204.44 L599.81,205.19 L600.12,206.14 L600.44,207.05 L600.75,207.76 L601.06,208.26 L601.38,208.64 L601.69,209.03 L602,209.52 L602.38,210.35 L602.75,211.08 L603.12,211.36 L603.5,211.14 L603.88,210.66 L604.25,210.24 L604.62,209.94 L605,209.69 L605.62,209.68 L606.25,210.24 L606.88,211.43 L607.5,212.64 L608.12,213.52 L608.75,214.22 L609.38,214.86 L610,215.5 L611.25,216.39 L612.5,217.27 L613.75,218.16 L615,219.05 L616.25,219.94 L617.5,220.82 L618.75,221.71 L620,222.6 L621.25,223.26 L622.5,223.47 L623.75,223.28 L625,224.49 L626.25,226.01 L627.5,226.99 L628.75,228.59 L630,230.3 L631.25,229.96 L632.5,230.35 L633.75,233.13 L635,232.3 L636.25,230.62 L637.5,230.94 L638.75,232.67 L640,233.71 L641.25,236.19 L642.5,237.09 L643.75,234.83 L645,233.81 L646.25,233.21 L647.5,235.08 L648.75,236.95 L650,239.6 L651.25,237.53 L652.5,236.6 L653.75,235.67 L655,233.6 L656.25,236.17 L657.5,237.59 L658.75,238.69 L660,240.6 L661.5,238.76 L663,236.01 L664.5,234.5 L666,238.81 L667.5,242.04 L669,241.05 L670.5,239.55 L672,239.7" fill="none" stroke="#6a6af0" stroke-width="1"/><path d="M595.6,212.3 C595.92,211.82 596.85,210.08 597.5,209.4 C598.15,208.72 598.75,208.3 599.5,208.2 C600.25,208.1 601.08,208.43 602,208.8 C602.92,209.17 603.67,209.82 605,210.4 C606.33,210.98 607.5,211.47 610,212.3 C612.5,213.13 616.67,214.35 620,215.4 C623.33,216.45 626.67,217.52 630,218.6 C633.33,219.68 636.67,220.88 640,221.9 C643.33,222.92 646.67,223.78 650,224.7 C653.33,225.62 656.33,226.52 660,227.4 C663.67,228.28 670,229.57 672,230" fill="none" stroke="#ff2a2a" stroke-width="1.05"/><path d="M595.6,212.3 C595.92,211.82 596.85,210.08 597.5,209.4 C598.15,208.72 598.75,208.3 599.5,208.2 C600.25,208.1 601.08,208.43 602,208.8 C602.92,209.17 603.67,209.6 605,210.4 C606.33,211.2 607.5,212.27 610,213.6 C612.5,214.93 616.67,216.83 620,218.4 C623.33,219.97 626.67,221.47 630,223 C633.33,224.53 636.67,226.28 640,227.6 C643.33,228.92 646.67,229.9 650,230.9 C653.33,231.9 656.33,232.73 660,233.6 C663.67,234.47 670,235.68 672,236.1" fill="none" stroke="#f09040" stroke-width="1.05"/><path d="M595.6,212.3 C595.92,211.82 596.85,210.08 597.5,209.4 C598.15,208.72 598.75,208.3 599.5,208.2 C600.25,208.1 601.08,208.43 602,208.8 C602.92,209.17 603.67,209.37 605,210.4 C606.33,211.43 607.5,213.13 610,215 C612.5,216.87 616.67,219.7 620,221.6 C623.33,223.5 626.67,224.92 630,226.4 C633.33,227.88 636.67,229.3 640,230.5 C643.33,231.7 646.67,232.63 650,233.6 C653.33,234.57 656.33,235.43 660,236.3 C663.67,237.17 670,238.38 672,238.8" fill="none" stroke="#22cc22" stroke-width="1.05"/><path d="M595.6,212.3 C595.92,211.82 596.85,210.08 597.5,209.4 C598.15,208.72 598.75,208.3 599.5,208.2 C600.25,208.1 601.08,208.43 602,208.8 C602.92,209.17 603.67,209.28 605,210.4 C606.33,211.52 607.5,213.47 610,215.5 C612.5,217.53 616.67,220.47 620,222.6 C623.33,224.73 626.67,226.48 630,228.3 C633.33,230.12 636.67,232.2 640,233.5 C643.33,234.8 646.67,235.33 650,236.1 C653.33,236.87 656.33,237.5 660,238.1 C663.67,238.7 670,239.43 672,239.7" fill="none" stroke="#1a1aee" stroke-width="1.05"/></g>
<path d="M595.6,247.4 L598.1,247.4 M595.6,237.5 L597.1,237.5 M595.6,227.6 L598.1,227.6 M595.6,217.7 L597.1,217.7 M595.6,207.8 L598.1,207.8 M595.6,197.9 L597.1,197.9 M600.25,250.4 L600.25,248.9 M605.43,250.4 L605.43,248.9 M610.6,250.4 L610.6,247.9 M615.77,250.4 L615.77,248.9 M620.95,250.4 L620.95,248.9 M626.12,250.4 L626.12,248.9 M631.3,250.4 L631.3,247.9 M636.48,250.4 L636.48,248.9 M641.65,250.4 L641.65,248.9 M646.83,250.4 L646.83,248.9 M652,250.4 L652,247.9 M657.18,250.4 L657.18,248.9 M662.35,250.4 L662.35,248.9 M667.52,250.4 L667.52,248.9 " stroke="#111" stroke-width="0.9"/>
<text x="593.8" y="210.5" font-family="Liberation Sans" font-size="7.6" fill="#222" font-weight="normal" font-style="normal" text-anchor="end" >1.0</text>
<text x="593.8" y="230.3" font-family="Liberation Sans" font-size="7.6" fill="#222" font-weight="normal" font-style="normal" text-anchor="end" >0.5</text>
<text x="593.8" y="250.1" font-family="Liberation Sans" font-size="7.6" fill="#222" font-weight="normal" font-style="normal" text-anchor="end" >0.0</text>
<text x="610.6" y="258.6" font-family="Liberation Sans" font-size="7.6" fill="#222" font-weight="normal" font-style="normal" text-anchor="middle" >1200</text>
<text x="631.3" y="258.6" font-family="Liberation Sans" font-size="7.6" fill="#222" font-weight="normal" font-style="normal" text-anchor="middle" >1400</text>
<text x="652" y="258.6" font-family="Liberation Sans" font-size="7.6" fill="#222" font-weight="normal" font-style="normal" text-anchor="middle" >1600</text>
<text x="621.9" y="268.4" font-family="Liberation Serif" font-size="11.5" fill="#222" font-weight="normal" font-style="italic" text-anchor="start" >&#957;</text><line x1="622.5" y1="261.27" x2="627.65" y2="261.27" stroke="#222" stroke-width="0.81"/><text x="631" y="268.2" font-family="Liberation Sans" font-size="9.5" fill="#222" font-weight="normal" font-style="normal" text-anchor="start" >(cm<tspan font-size="6" dy="-3.4">-1</tspan><tspan dy="3.4">)</tspan></text>
<text transform="translate(580.3,219.6) rotate(-90)" font-family="Liberation Sans" font-size="8.8" fill="#222" text-anchor="middle">&#916;<tspan font-style="italic">A</tspan> (norm.)</text>
<linearGradient id="parr" x1="0" y1="0" x2="0" y2="1"><stop offset="0" stop-color="#de76b6"/><stop offset="1" stop-color="#8866e6"/></linearGradient>
<path d="M639.5,209.7 L627.2,233.6" stroke="url(#parr)" stroke-width="1.7"/><path d="M623.9,239.6 L623.9,231.4 L630,234.5Z" fill="#8866e6"/>
<rect x="492.6" y="188.6" width="179.2" height="144.6" fill="none" stroke="#111" stroke-width="1.8"/>
</svg>
</body></html>
